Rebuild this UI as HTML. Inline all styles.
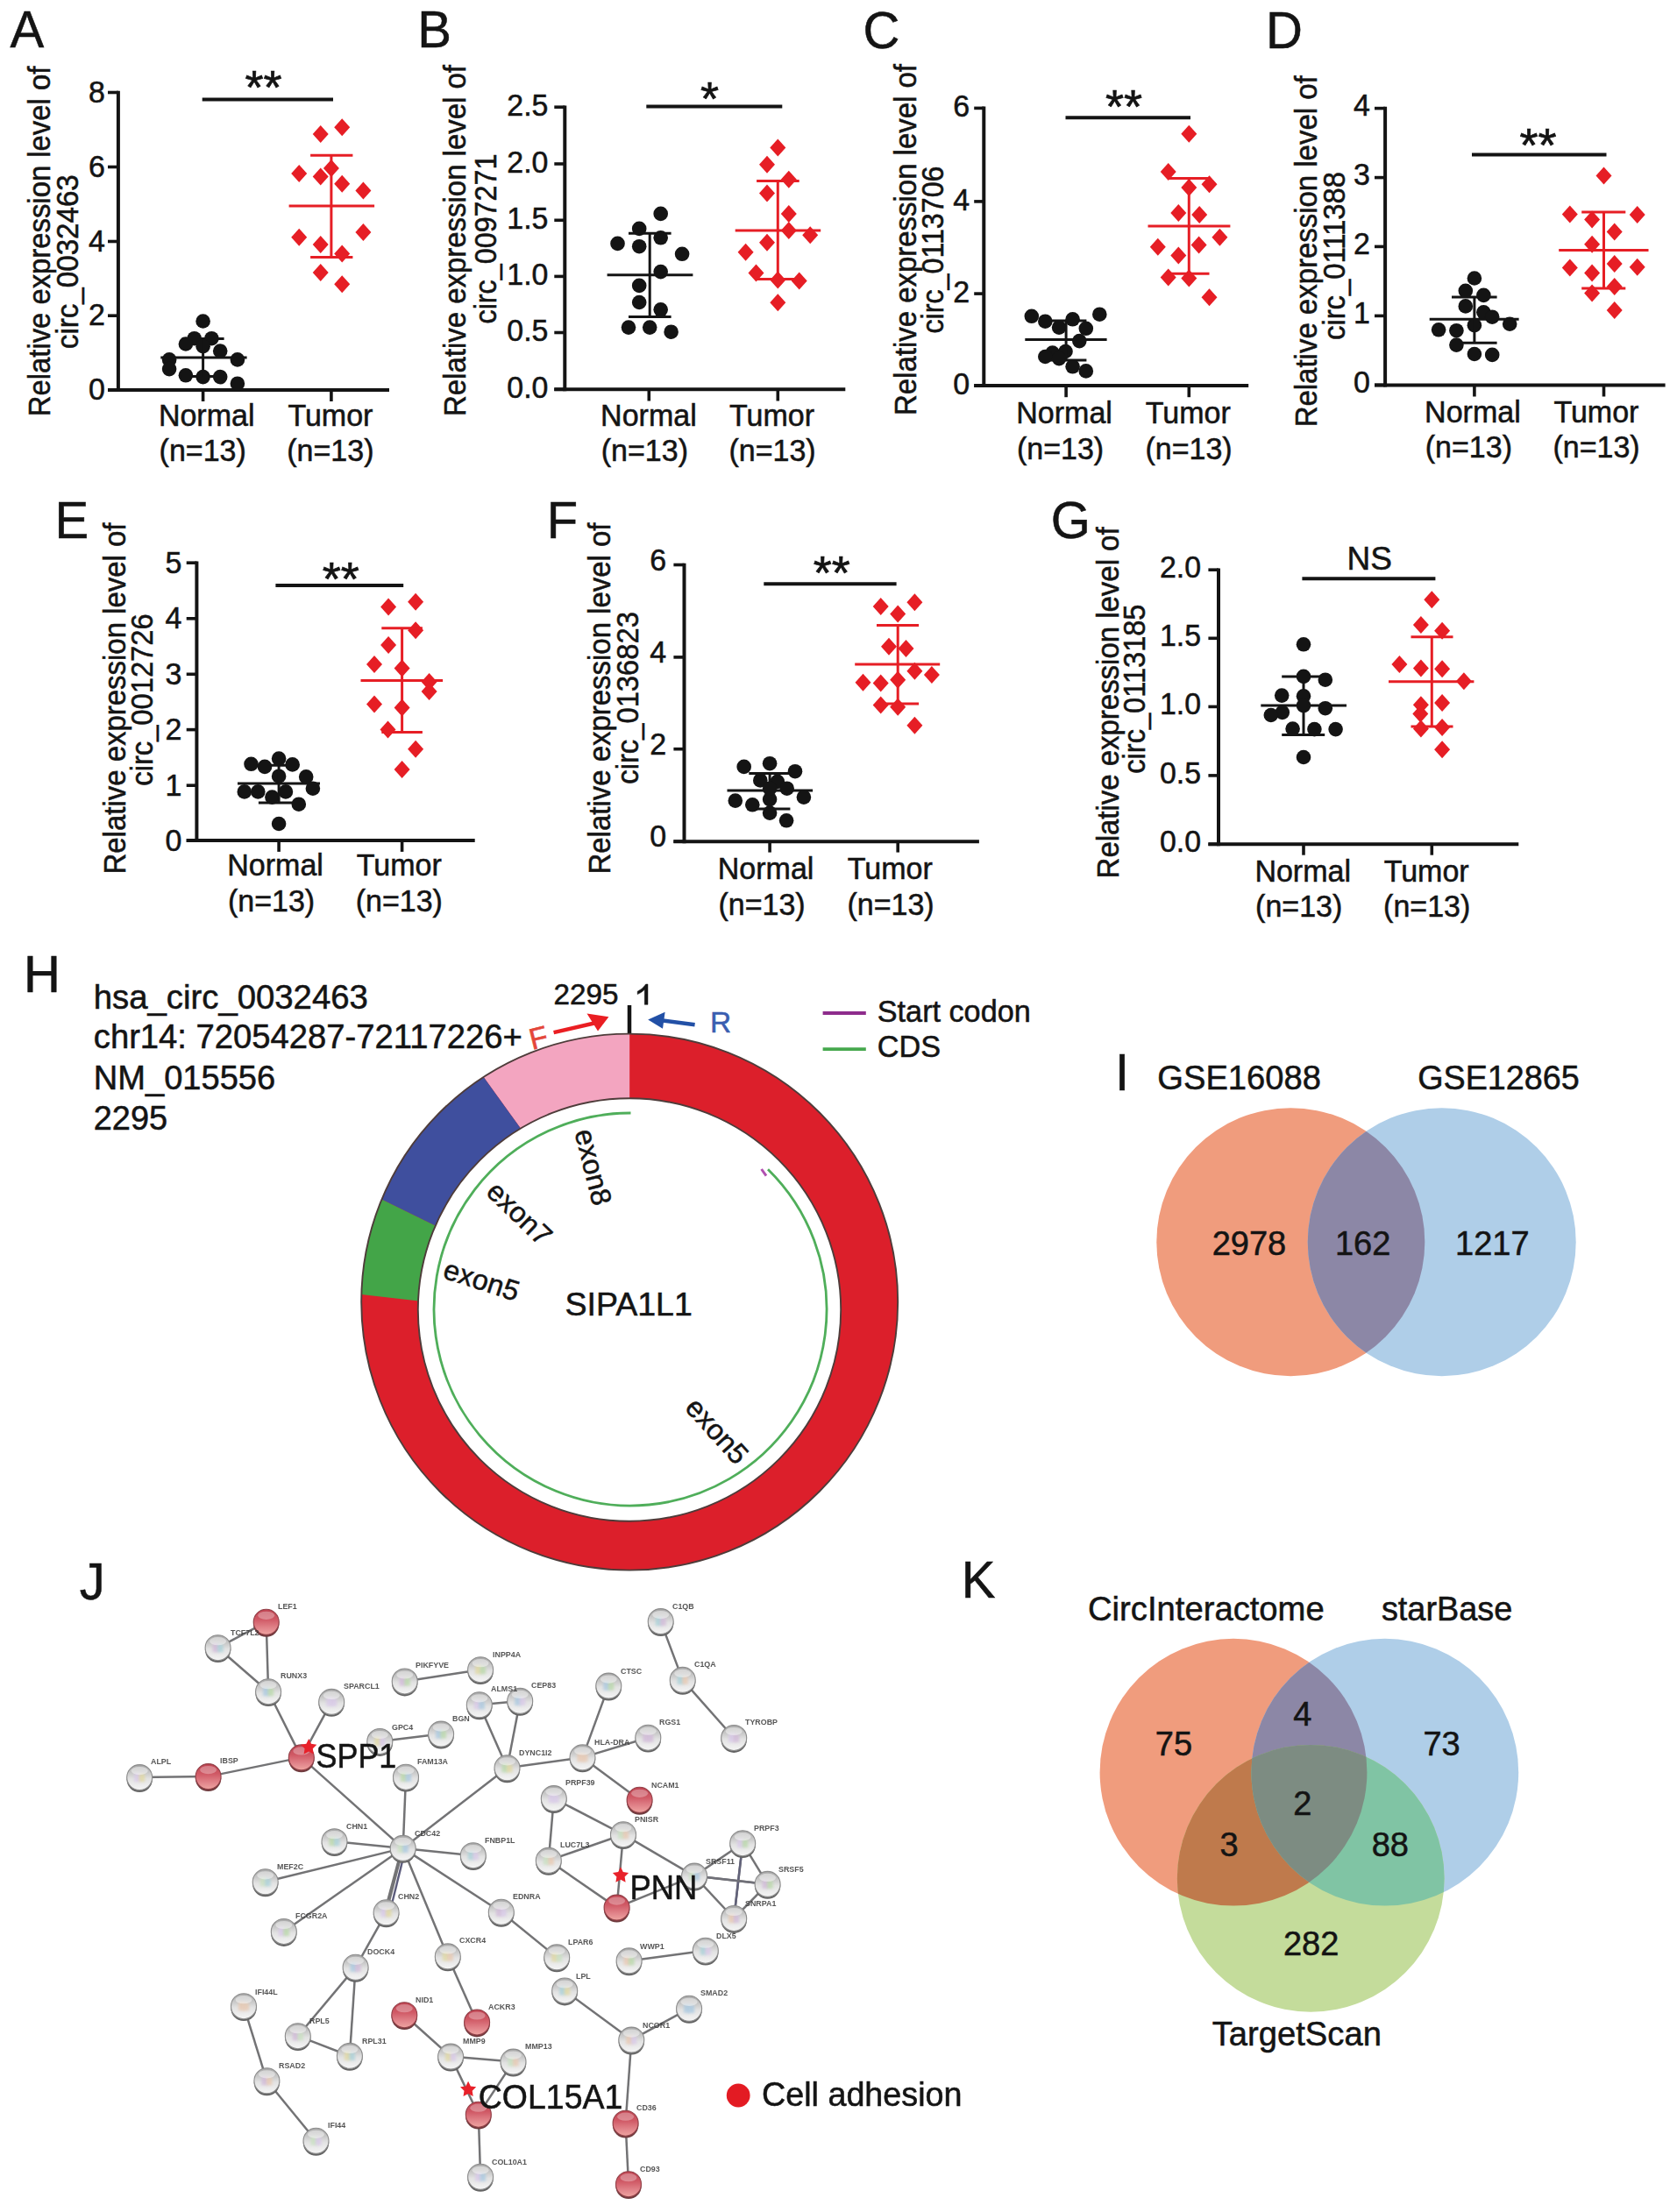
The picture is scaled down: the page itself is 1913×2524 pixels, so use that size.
<!DOCTYPE html>
<html><head><meta charset="utf-8"><title>Figure</title><style>html,body{margin:0;padding:0;background:#fff}svg{display:block;filter:blur(0.7px)}</style></head><body>
<svg width="1913" height="2524" viewBox="0 0 1913 2524" font-family="'Liberation Sans', sans-serif">
<defs>
<linearGradient id="lw" x1="0" y1="0" x2="0" y2="1"><stop offset="0" stop-color="#a6a6a6"/><stop offset="0.3" stop-color="#c6c6c6"/><stop offset="0.55" stop-color="#e2e2e2"/><stop offset="1" stop-color="#f5f5f5"/></linearGradient>
<linearGradient id="lr" x1="0" y1="0" x2="0" y2="1"><stop offset="0" stop-color="#bf4250"/><stop offset="0.4" stop-color="#d05a66"/><stop offset="0.75" stop-color="#e2868c"/><stop offset="1" stop-color="#eea4a0"/></linearGradient>
<filter id="b1" x="-20%" y="-20%" width="140%" height="140%"><feGaussianBlur stdDeviation="0.7"/></filter>
<filter id="b2" x="-30%" y="-30%" width="160%" height="160%"><feGaussianBlur stdDeviation="1.4"/></filter>
<radialGradient id="gw" cx="0.5" cy="0.32" r="0.62" fx="0.45" fy="0.22"><stop offset="0" stop-color="#ffffff"/><stop offset="0.45" stop-color="#eeeeee"/><stop offset="0.8" stop-color="#cfcfcf"/><stop offset="1" stop-color="#9a9a9a"/></radialGradient>
<radialGradient id="gr" cx="0.5" cy="0.32" r="0.62" fx="0.45" fy="0.22"><stop offset="0" stop-color="#f4b0b4"/><stop offset="0.4" stop-color="#dc5560"/><stop offset="0.8" stop-color="#cc3f4c"/><stop offset="1" stop-color="#9b3a42"/></radialGradient>
<clipPath id="ringclip"><circle cx="718.2" cy="1485.6" r="306"/></clipPath>
<filter id="soft" x="-5%" y="-5%" width="110%" height="110%"><feGaussianBlur stdDeviation="0.5"/></filter>
</defs>
<rect width="1913" height="2524" fill="#ffffff"/>
<text x="11.5" y="53.7" font-size="59.3" text-anchor="start" fill="#141414" textLength="38.7" lengthAdjust="spacingAndGlyphs" stroke="#141414" stroke-width="0.55">A</text>
<text x="476.2" y="54" font-size="59.3" text-anchor="start" fill="#141414" textLength="38.7" lengthAdjust="spacingAndGlyphs" stroke="#141414" stroke-width="0.55">B</text>
<text x="984.5" y="54.6" font-size="59.3" text-anchor="start" fill="#141414" textLength="41.9" lengthAdjust="spacingAndGlyphs" stroke="#141414" stroke-width="0.55">C</text>
<text x="1444" y="54.6" font-size="59.3" text-anchor="start" fill="#141414" textLength="41.9" lengthAdjust="spacingAndGlyphs" stroke="#141414" stroke-width="0.55">D</text>
<text x="62.5" y="613.5" font-size="59.3" text-anchor="start" fill="#141414" textLength="38.7" lengthAdjust="spacingAndGlyphs" stroke="#141414" stroke-width="0.55">E</text>
<text x="623.7" y="613.5" font-size="59.3" text-anchor="start" fill="#141414" textLength="35.4" lengthAdjust="spacingAndGlyphs" stroke="#141414" stroke-width="0.55">F</text>
<text x="1198.8" y="613.5" font-size="59.3" text-anchor="start" fill="#141414" textLength="45.1" lengthAdjust="spacingAndGlyphs" stroke="#141414" stroke-width="0.55">G</text>
<text x="26.9" y="1132.2" font-size="59.3" text-anchor="start" fill="#141414" textLength="41.9" lengthAdjust="spacingAndGlyphs" stroke="#141414" stroke-width="0.55">H</text>
<text x="1272" y="1244.2" font-size="59.3" text-anchor="start" fill="#141414" textLength="16.1" lengthAdjust="spacingAndGlyphs" stroke="#141414" stroke-width="0.55">I</text>
<text x="90.8" y="1825" font-size="59.3" text-anchor="start" fill="#141414" textLength="29.0" lengthAdjust="spacingAndGlyphs" stroke="#141414" stroke-width="0.55">J</text>
<text x="1096.7" y="1822.9" font-size="59.3" text-anchor="start" fill="#141414" textLength="38.7" lengthAdjust="spacingAndGlyphs" stroke="#141414" stroke-width="0.55">K</text>
<text x="56.8" y="275.5" font-size="34.3" text-anchor="middle" fill="#141414" stroke="#141414" stroke-width="0.55" transform="rotate(-90 56.8 275.5)" textLength="399.5" lengthAdjust="spacingAndGlyphs">Relative expression level of</text>
<text x="88.6" y="298.7" font-size="34.3" text-anchor="middle" fill="#141414" stroke="#141414" stroke-width="0.55" transform="rotate(-90 88.6 298.7)" textLength="199" lengthAdjust="spacingAndGlyphs">circ_0032463</text>
<line x1="134.9" y1="103.7" x2="134.9" y2="447" stroke="#141414" stroke-width="4" stroke-linecap="butt"/>
<line x1="123" y1="445" x2="444" y2="445" stroke="#141414" stroke-width="4" stroke-linecap="butt"/>
<line x1="123" y1="105.5" x2="134.9" y2="105.5" stroke="#141414" stroke-width="3.6" stroke-linecap="butt"/>
<text x="119.9" y="116.7" font-size="35" text-anchor="end" fill="#141414" textLength="18.9" lengthAdjust="spacingAndGlyphs" stroke="#141414" stroke-width="0.55">8</text>
<line x1="123" y1="190.5" x2="134.9" y2="190.5" stroke="#141414" stroke-width="3.6" stroke-linecap="butt"/>
<text x="119.9" y="201.70000000000002" font-size="35" text-anchor="end" fill="#141414" textLength="18.9" lengthAdjust="spacingAndGlyphs" stroke="#141414" stroke-width="0.55">6</text>
<line x1="123" y1="275.5" x2="134.9" y2="275.5" stroke="#141414" stroke-width="3.6" stroke-linecap="butt"/>
<text x="119.9" y="286.7" font-size="35" text-anchor="end" fill="#141414" textLength="18.9" lengthAdjust="spacingAndGlyphs" stroke="#141414" stroke-width="0.55">4</text>
<line x1="123" y1="360.2" x2="134.9" y2="360.2" stroke="#141414" stroke-width="3.6" stroke-linecap="butt"/>
<text x="119.9" y="371.4" font-size="35" text-anchor="end" fill="#141414" textLength="18.9" lengthAdjust="spacingAndGlyphs" stroke="#141414" stroke-width="0.55">2</text>
<line x1="123" y1="445" x2="134.9" y2="445" stroke="#141414" stroke-width="3.6" stroke-linecap="butt"/>
<text x="119.9" y="456.2" font-size="35" text-anchor="end" fill="#141414" textLength="18.9" lengthAdjust="spacingAndGlyphs" stroke="#141414" stroke-width="0.55">0</text>
<line x1="231.6" y1="445" x2="231.6" y2="458" stroke="#141414" stroke-width="3.6" stroke-linecap="butt"/>
<line x1="377.9" y1="445" x2="377.9" y2="458" stroke="#141414" stroke-width="3.6" stroke-linecap="butt"/>
<text x="180.9" y="486.1" font-size="35" text-anchor="start" fill="#141414" textLength="109.6" lengthAdjust="spacingAndGlyphs" stroke="#141414" stroke-width="0.55">Normal</text>
<text x="181.6" y="526.3" font-size="35" text-anchor="start" fill="#141414" textLength="99.2" lengthAdjust="spacingAndGlyphs" stroke="#141414" stroke-width="0.55">(n=13)</text>
<text x="328.4" y="486.1" font-size="35" text-anchor="start" fill="#141414" textLength="97.0" lengthAdjust="spacingAndGlyphs" stroke="#141414" stroke-width="0.55">Tumor</text>
<text x="327.3" y="526.3" font-size="35" text-anchor="start" fill="#141414" textLength="99.2" lengthAdjust="spacingAndGlyphs" stroke="#141414" stroke-width="0.55">(n=13)</text>
<line x1="230.7" y1="113.5" x2="380" y2="113.5" stroke="#141414" stroke-width="4" stroke-linecap="butt"/>
<text x="300.5" y="117.9" font-size="54" text-anchor="middle" fill="#141414" stroke="#141414" stroke-width="0.7">**</text>
<circle cx="231.6" cy="366.5" r="8.3" fill="#141414"/>
<circle cx="221.7" cy="386.2" r="8.3" fill="#141414"/>
<circle cx="241.4" cy="386.2" r="8.3" fill="#141414"/>
<circle cx="211.9" cy="392.5" r="8.3" fill="#141414"/>
<circle cx="231.6" cy="395.2" r="8.3" fill="#141414"/>
<circle cx="251.2" cy="400.5" r="8.3" fill="#141414"/>
<circle cx="193.1" cy="410.4" r="8.3" fill="#141414"/>
<circle cx="270.9" cy="410.4" r="8.3" fill="#141414"/>
<circle cx="193.1" cy="421.1" r="8.3" fill="#141414"/>
<circle cx="211.9" cy="428.3" r="8.3" fill="#141414"/>
<circle cx="231.6" cy="430.1" r="8.3" fill="#141414"/>
<circle cx="251.2" cy="430.1" r="8.3" fill="#141414"/>
<circle cx="270.9" cy="437.7" r="8.3" fill="#141414"/>
<line x1="183.3" y1="408" x2="281.6" y2="408" stroke="#141414" stroke-width="3" stroke-linecap="butt"/>
<line x1="207.6" y1="386.6" x2="255.6" y2="386.6" stroke="#141414" stroke-width="3" stroke-linecap="butt"/>
<line x1="207.6" y1="429.5" x2="255.6" y2="429.5" stroke="#141414" stroke-width="3" stroke-linecap="butt"/>
<line x1="231.6" y1="386.6" x2="231.6" y2="429.5" stroke="#141414" stroke-width="3" stroke-linecap="butt"/>
<path d="M390.2 135.3L399.2 145.3L390.2 155.3L381.2 145.3Z" fill="#e61e25"/>
<path d="M365.7 143.1L374.7 153.1L365.7 163.1L356.7 153.1Z" fill="#e61e25"/>
<path d="M377.9 182.1L386.9 192.1L377.9 202.1L368.9 192.1Z" fill="#e61e25"/>
<path d="M341.2 187.9L350.2 197.9L341.2 207.9L332.2 197.9Z" fill="#e61e25"/>
<path d="M365.7 191.6L374.7 201.6L365.7 211.6L356.7 201.6Z" fill="#e61e25"/>
<path d="M390.2 199.7L399.2 209.7L390.2 219.7L381.2 209.7Z" fill="#e61e25"/>
<path d="M414.4 207.5L423.4 217.5L414.4 227.5L405.4 217.5Z" fill="#e61e25"/>
<path d="M414.4 254.89999999999998L423.4 264.9L414.4 274.9L405.4 264.9Z" fill="#e61e25"/>
<path d="M341.2 260.8L350.2 270.8L341.2 280.8L332.2 270.8Z" fill="#e61e25"/>
<path d="M365.7 268.9L374.7 278.9L365.7 288.9L356.7 278.9Z" fill="#e61e25"/>
<path d="M390.2 279.6L399.2 289.6L390.2 299.6L381.2 289.6Z" fill="#e61e25"/>
<path d="M365.7 301.1L374.7 311.1L365.7 321.1L356.7 311.1Z" fill="#e61e25"/>
<path d="M390.2 314.2L399.2 324.2L390.2 334.2L381.2 324.2Z" fill="#e61e25"/>
<line x1="329.6" y1="235.1" x2="427.1" y2="235.1" stroke="#e61e25" stroke-width="3" stroke-linecap="butt"/>
<line x1="354.1" y1="177.3" x2="402.4" y2="177.3" stroke="#e61e25" stroke-width="3" stroke-linecap="butt"/>
<line x1="354.1" y1="293.6" x2="402.4" y2="293.6" stroke="#e61e25" stroke-width="3" stroke-linecap="butt"/>
<line x1="377.9" y1="177.3" x2="377.9" y2="293.6" stroke="#e61e25" stroke-width="3" stroke-linecap="butt"/>
<text x="531" y="274.5" font-size="34.3" text-anchor="middle" fill="#141414" stroke="#141414" stroke-width="0.55" transform="rotate(-90 531 274.5)" textLength="401" lengthAdjust="spacingAndGlyphs">Relative expression level of</text>
<text x="565.8" y="272.5" font-size="34.3" text-anchor="middle" fill="#141414" stroke="#141414" stroke-width="0.55" transform="rotate(-90 565.8 272.5)" textLength="194" lengthAdjust="spacingAndGlyphs">circ_0097271</text>
<line x1="644.3" y1="120.4" x2="644.3" y2="446.3" stroke="#141414" stroke-width="4" stroke-linecap="butt"/>
<line x1="632.3" y1="444.3" x2="964.3" y2="444.3" stroke="#141414" stroke-width="4" stroke-linecap="butt"/>
<line x1="632.3" y1="122.2" x2="644.3" y2="122.2" stroke="#141414" stroke-width="3.6" stroke-linecap="butt"/>
<text x="625.4" y="131.8" font-size="35" text-anchor="end" fill="#141414" textLength="47.1" lengthAdjust="spacingAndGlyphs" stroke="#141414" stroke-width="0.55">2.5</text>
<line x1="632.3" y1="187" x2="644.3" y2="187" stroke="#141414" stroke-width="3.6" stroke-linecap="butt"/>
<text x="625.4" y="196.60000000000002" font-size="35" text-anchor="end" fill="#141414" textLength="47.1" lengthAdjust="spacingAndGlyphs" stroke="#141414" stroke-width="0.55">2.0</text>
<line x1="632.3" y1="251.3" x2="644.3" y2="251.3" stroke="#141414" stroke-width="3.6" stroke-linecap="butt"/>
<text x="625.4" y="260.90000000000003" font-size="35" text-anchor="end" fill="#141414" textLength="47.1" lengthAdjust="spacingAndGlyphs" stroke="#141414" stroke-width="0.55">1.5</text>
<line x1="632.3" y1="315.4" x2="644.3" y2="315.4" stroke="#141414" stroke-width="3.6" stroke-linecap="butt"/>
<text x="625.4" y="325.0" font-size="35" text-anchor="end" fill="#141414" textLength="47.1" lengthAdjust="spacingAndGlyphs" stroke="#141414" stroke-width="0.55">1.0</text>
<line x1="632.3" y1="379.5" x2="644.3" y2="379.5" stroke="#141414" stroke-width="3.6" stroke-linecap="butt"/>
<text x="625.4" y="389.1" font-size="35" text-anchor="end" fill="#141414" textLength="47.1" lengthAdjust="spacingAndGlyphs" stroke="#141414" stroke-width="0.55">0.5</text>
<line x1="632.3" y1="444.3" x2="644.3" y2="444.3" stroke="#141414" stroke-width="3.6" stroke-linecap="butt"/>
<text x="625.4" y="453.90000000000003" font-size="35" text-anchor="end" fill="#141414" textLength="47.1" lengthAdjust="spacingAndGlyphs" stroke="#141414" stroke-width="0.55">0.0</text>
<line x1="740.3" y1="444.3" x2="740.3" y2="457.5" stroke="#141414" stroke-width="3.6" stroke-linecap="butt"/>
<line x1="887.3" y1="444.3" x2="887.3" y2="457.5" stroke="#141414" stroke-width="3.6" stroke-linecap="butt"/>
<text x="685.1" y="486.1" font-size="35" text-anchor="start" fill="#141414" textLength="109.6" lengthAdjust="spacingAndGlyphs" stroke="#141414" stroke-width="0.55">Normal</text>
<text x="685.8" y="526.3" font-size="35" text-anchor="start" fill="#141414" textLength="99.2" lengthAdjust="spacingAndGlyphs" stroke="#141414" stroke-width="0.55">(n=13)</text>
<text x="832.1" y="486.1" font-size="35" text-anchor="start" fill="#141414" textLength="97.0" lengthAdjust="spacingAndGlyphs" stroke="#141414" stroke-width="0.55">Tumor</text>
<text x="831.5" y="526.3" font-size="35" text-anchor="start" fill="#141414" textLength="99.2" lengthAdjust="spacingAndGlyphs" stroke="#141414" stroke-width="0.55">(n=13)</text>
<line x1="737.3" y1="121.6" x2="892.3" y2="121.6" stroke="#141414" stroke-width="4" stroke-linecap="butt"/>
<text x="809.4" y="130.7" font-size="54" text-anchor="middle" fill="#141414" stroke="#141414" stroke-width="0.7">*</text>
<circle cx="753.7" cy="243.9" r="8.3" fill="#141414"/>
<circle cx="729.2" cy="260.9" r="8.3" fill="#141414"/>
<circle cx="753.7" cy="271.3" r="8.3" fill="#141414"/>
<circle cx="704.5" cy="277.9" r="8.3" fill="#141414"/>
<circle cx="729.2" cy="281.2" r="8.3" fill="#141414"/>
<circle cx="778.1" cy="289.8" r="8.3" fill="#141414"/>
<circle cx="753.7" cy="310.1" r="8.3" fill="#141414"/>
<circle cx="729.2" cy="325.9" r="8.3" fill="#141414"/>
<circle cx="729.2" cy="345" r="8.3" fill="#141414"/>
<circle cx="753.7" cy="353.3" r="8.3" fill="#141414"/>
<circle cx="717" cy="373.6" r="8.3" fill="#141414"/>
<circle cx="741.2" cy="373.6" r="8.3" fill="#141414"/>
<circle cx="765.6" cy="378.7" r="8.3" fill="#141414"/>
<line x1="692.6" y1="313.7" x2="790.4" y2="313.7" stroke="#141414" stroke-width="3" stroke-linecap="butt"/>
<line x1="717" y1="266.2" x2="765.6" y2="266.2" stroke="#141414" stroke-width="3" stroke-linecap="butt"/>
<line x1="717" y1="361.4" x2="765.6" y2="361.4" stroke="#141414" stroke-width="3" stroke-linecap="butt"/>
<line x1="741.2" y1="266.2" x2="741.2" y2="361.4" stroke="#141414" stroke-width="3" stroke-linecap="butt"/>
<path d="M887.3 158.5L896.3 168.5L887.3 178.5L878.3 168.5Z" fill="#e61e25"/>
<path d="M875 177.8L884 187.8L875 197.8L866 187.8Z" fill="#e61e25"/>
<path d="M899.8 194.8L908.8 204.8L899.8 214.8L890.8 204.8Z" fill="#e61e25"/>
<path d="M875 210.6L884 220.6L875 230.6L866 220.6Z" fill="#e61e25"/>
<path d="M899.8 233.9L908.8 243.9L899.8 253.9L890.8 243.9Z" fill="#e61e25"/>
<path d="M899.8 253L908.8 263L899.8 273L890.8 263Z" fill="#e61e25"/>
<path d="M924.2 258.3L933.2 268.3L924.2 278.3L915.2 268.3Z" fill="#e61e25"/>
<path d="M875 266.7L884 276.7L875 286.7L866 276.7Z" fill="#e61e25"/>
<path d="M850.6 277.7L859.6 287.7L850.6 297.7L841.6 287.7Z" fill="#e61e25"/>
<path d="M862.5 301.6L871.5 311.6L862.5 321.6L853.5 311.6Z" fill="#e61e25"/>
<path d="M887.3 309.6L896.3 319.6L887.3 329.6L878.3 319.6Z" fill="#e61e25"/>
<path d="M911.7 310.5L920.7 320.5L911.7 330.5L902.7 320.5Z" fill="#e61e25"/>
<path d="M887.3 335.3L896.3 345.3L887.3 355.3L878.3 345.3Z" fill="#e61e25"/>
<line x1="838.7" y1="263" x2="936.2" y2="263" stroke="#e61e25" stroke-width="3" stroke-linecap="butt"/>
<line x1="863.1" y1="206.6" x2="911.7" y2="206.6" stroke="#e61e25" stroke-width="3" stroke-linecap="butt"/>
<line x1="863.1" y1="318.4" x2="911.7" y2="318.4" stroke="#e61e25" stroke-width="3" stroke-linecap="butt"/>
<line x1="887.3" y1="206.6" x2="887.3" y2="318.4" stroke="#e61e25" stroke-width="3" stroke-linecap="butt"/>
<text x="1045.3" y="273.5" font-size="34.3" text-anchor="middle" fill="#141414" stroke="#141414" stroke-width="0.55" transform="rotate(-90 1045.3 273.5)" textLength="401" lengthAdjust="spacingAndGlyphs">Relative expression level of</text>
<text x="1076.2" y="285" font-size="34.3" text-anchor="middle" fill="#141414" stroke="#141414" stroke-width="0.55" transform="rotate(-90 1076.2 285)" textLength="191" lengthAdjust="spacingAndGlyphs">circ_0113706</text>
<line x1="1122.3" y1="121.60000000000001" x2="1122.3" y2="442.1" stroke="#141414" stroke-width="4" stroke-linecap="butt"/>
<line x1="1111.2" y1="440.1" x2="1424.2" y2="440.1" stroke="#141414" stroke-width="4" stroke-linecap="butt"/>
<line x1="1111.2" y1="123.4" x2="1122.3" y2="123.4" stroke="#141414" stroke-width="3.6" stroke-linecap="butt"/>
<text x="1106.1" y="133.00000000000003" font-size="35" text-anchor="end" fill="#141414" textLength="18.9" lengthAdjust="spacingAndGlyphs" stroke="#141414" stroke-width="0.55">6</text>
<line x1="1111.2" y1="229.9" x2="1122.3" y2="229.9" stroke="#141414" stroke-width="3.6" stroke-linecap="butt"/>
<text x="1106.1" y="239.50000000000003" font-size="35" text-anchor="end" fill="#141414" textLength="18.9" lengthAdjust="spacingAndGlyphs" stroke="#141414" stroke-width="0.55">4</text>
<line x1="1111.2" y1="335.1" x2="1122.3" y2="335.1" stroke="#141414" stroke-width="3.6" stroke-linecap="butt"/>
<text x="1106.1" y="344.70000000000005" font-size="35" text-anchor="end" fill="#141414" textLength="18.9" lengthAdjust="spacingAndGlyphs" stroke="#141414" stroke-width="0.55">2</text>
<line x1="1111.2" y1="440.1" x2="1122.3" y2="440.1" stroke="#141414" stroke-width="3.6" stroke-linecap="butt"/>
<text x="1106.1" y="449.70000000000005" font-size="35" text-anchor="end" fill="#141414" textLength="18.9" lengthAdjust="spacingAndGlyphs" stroke="#141414" stroke-width="0.55">0</text>
<line x1="1216.1" y1="440.1" x2="1216.1" y2="453.2" stroke="#141414" stroke-width="3.6" stroke-linecap="butt"/>
<line x1="1356.3" y1="440.1" x2="1356.3" y2="453.2" stroke="#141414" stroke-width="3.6" stroke-linecap="butt"/>
<text x="1159.3" y="483.1" font-size="35" text-anchor="start" fill="#141414" textLength="109.6" lengthAdjust="spacingAndGlyphs" stroke="#141414" stroke-width="0.55">Normal</text>
<text x="1160.0" y="523.7" font-size="35" text-anchor="start" fill="#141414" textLength="99.2" lengthAdjust="spacingAndGlyphs" stroke="#141414" stroke-width="0.55">(n=13)</text>
<text x="1306.8" y="483.1" font-size="35" text-anchor="start" fill="#141414" textLength="97.0" lengthAdjust="spacingAndGlyphs" stroke="#141414" stroke-width="0.55">Tumor</text>
<text x="1306.5" y="523.7" font-size="35" text-anchor="start" fill="#141414" textLength="99.2" lengthAdjust="spacingAndGlyphs" stroke="#141414" stroke-width="0.55">(n=13)</text>
<line x1="1215.5" y1="134.2" x2="1358" y2="134.2" stroke="#141414" stroke-width="4" stroke-linecap="butt"/>
<text x="1282" y="139.6" font-size="54" text-anchor="middle" fill="#141414" stroke="#141414" stroke-width="0.7">**</text>
<circle cx="1176.8" cy="360.8" r="8.3" fill="#141414"/>
<circle cx="1254.3" cy="358.7" r="8.3" fill="#141414"/>
<circle cx="1192.3" cy="366.7" r="8.3" fill="#141414"/>
<circle cx="1223.6" cy="364.3" r="8.3" fill="#141414"/>
<circle cx="1208.1" cy="373.6" r="8.3" fill="#141414"/>
<circle cx="1238.8" cy="374.8" r="8.3" fill="#141414"/>
<circle cx="1231.3" cy="389.1" r="8.3" fill="#141414"/>
<circle cx="1200.6" cy="402.5" r="8.3" fill="#141414"/>
<circle cx="1215.5" cy="401" r="8.3" fill="#141414"/>
<circle cx="1192.3" cy="407" r="8.3" fill="#141414"/>
<circle cx="1208.1" cy="409.1" r="8.3" fill="#141414"/>
<circle cx="1223.6" cy="418.3" r="8.3" fill="#141414"/>
<circle cx="1238.8" cy="423.4" r="8.3" fill="#141414"/>
<line x1="1169.3" y1="387.6" x2="1262.6" y2="387.6" stroke="#141414" stroke-width="3" stroke-linecap="butt"/>
<line x1="1193.2" y1="366.1" x2="1239.4" y2="366.1" stroke="#141414" stroke-width="3" stroke-linecap="butt"/>
<line x1="1193.2" y1="410.9" x2="1239.4" y2="410.9" stroke="#141414" stroke-width="3" stroke-linecap="butt"/>
<line x1="1216.1" y1="366.1" x2="1216.1" y2="410.9" stroke="#141414" stroke-width="3" stroke-linecap="butt"/>
<path d="M1356.3 142.7L1365.3 152.7L1356.3 162.7L1347.3 152.7Z" fill="#e61e25"/>
<path d="M1332.7 185.9L1341.7 195.9L1332.7 205.9L1323.7 195.9Z" fill="#e61e25"/>
<path d="M1379.5 200.2L1388.5 210.2L1379.5 220.2L1370.5 210.2Z" fill="#e61e25"/>
<path d="M1356.3 204.1L1365.3 214.1L1356.3 224.1L1347.3 214.1Z" fill="#e61e25"/>
<path d="M1344.3 233L1353.3 243L1344.3 253L1335.3 243Z" fill="#e61e25"/>
<path d="M1368.2 235.1L1377.2 245.1L1368.2 255.1L1359.2 245.1Z" fill="#e61e25"/>
<path d="M1391.4 260.7L1400.4 270.7L1391.4 280.7L1382.4 270.7Z" fill="#e61e25"/>
<path d="M1367.6 269.4L1376.6 279.4L1367.6 289.4L1358.6 279.4Z" fill="#e61e25"/>
<path d="M1320.8 271.8L1329.8 281.8L1320.8 291.8L1311.8 281.8Z" fill="#e61e25"/>
<path d="M1344.3 281.6L1353.3 291.6L1344.3 301.6L1335.3 291.6Z" fill="#e61e25"/>
<path d="M1332.7 306.6L1341.7 316.6L1332.7 326.6L1323.7 316.6Z" fill="#e61e25"/>
<path d="M1356.3 307.5L1365.3 317.5L1356.3 327.5L1347.3 317.5Z" fill="#e61e25"/>
<path d="M1379.5 329.3L1388.5 339.3L1379.5 349.3L1370.5 339.3Z" fill="#e61e25"/>
<line x1="1309.5" y1="257.9" x2="1403.4" y2="257.9" stroke="#e61e25" stroke-width="3" stroke-linecap="butt"/>
<line x1="1333.3" y1="203.6" x2="1379.5" y2="203.6" stroke="#e61e25" stroke-width="3" stroke-linecap="butt"/>
<line x1="1333.3" y1="312.2" x2="1379.5" y2="312.2" stroke="#e61e25" stroke-width="3" stroke-linecap="butt"/>
<line x1="1356.3" y1="203.6" x2="1356.3" y2="312.2" stroke="#e61e25" stroke-width="3" stroke-linecap="butt"/>
<text x="1501.7" y="286.8" font-size="34.3" text-anchor="middle" fill="#141414" stroke="#141414" stroke-width="0.55" transform="rotate(-90 1501.7 286.8)" textLength="401" lengthAdjust="spacingAndGlyphs">Relative expression level of</text>
<text x="1533.9" y="292" font-size="34.3" text-anchor="middle" fill="#141414" stroke="#141414" stroke-width="0.55" transform="rotate(-90 1533.9 292)" textLength="192" lengthAdjust="spacingAndGlyphs">circ_0111388</text>
<line x1="1580.1" y1="121.8" x2="1580.1" y2="441.4" stroke="#141414" stroke-width="4" stroke-linecap="butt"/>
<line x1="1568" y1="439.4" x2="1899.6" y2="439.4" stroke="#141414" stroke-width="4" stroke-linecap="butt"/>
<line x1="1568" y1="123.6" x2="1580.1" y2="123.6" stroke="#141414" stroke-width="3.6" stroke-linecap="butt"/>
<text x="1563" y="132.3" font-size="35" text-anchor="end" fill="#141414" textLength="18.9" lengthAdjust="spacingAndGlyphs" stroke="#141414" stroke-width="0.55">4</text>
<line x1="1568" y1="202.6" x2="1580.1" y2="202.6" stroke="#141414" stroke-width="3.6" stroke-linecap="butt"/>
<text x="1563" y="211.3" font-size="35" text-anchor="end" fill="#141414" textLength="18.9" lengthAdjust="spacingAndGlyphs" stroke="#141414" stroke-width="0.55">3</text>
<line x1="1568" y1="281.4" x2="1580.1" y2="281.4" stroke="#141414" stroke-width="3.6" stroke-linecap="butt"/>
<text x="1563" y="290.09999999999997" font-size="35" text-anchor="end" fill="#141414" textLength="18.9" lengthAdjust="spacingAndGlyphs" stroke="#141414" stroke-width="0.55">2</text>
<line x1="1568" y1="360.4" x2="1580.1" y2="360.4" stroke="#141414" stroke-width="3.6" stroke-linecap="butt"/>
<text x="1563" y="369.09999999999997" font-size="35" text-anchor="end" fill="#141414" textLength="18.9" lengthAdjust="spacingAndGlyphs" stroke="#141414" stroke-width="0.55">1</text>
<line x1="1568" y1="439.4" x2="1580.1" y2="439.4" stroke="#141414" stroke-width="3.6" stroke-linecap="butt"/>
<text x="1563" y="448.09999999999997" font-size="35" text-anchor="end" fill="#141414" textLength="18.9" lengthAdjust="spacingAndGlyphs" stroke="#141414" stroke-width="0.55">0</text>
<line x1="1681.9" y1="439.4" x2="1681.9" y2="452.5" stroke="#141414" stroke-width="3.6" stroke-linecap="butt"/>
<line x1="1829.5" y1="439.4" x2="1829.5" y2="452.5" stroke="#141414" stroke-width="3.6" stroke-linecap="butt"/>
<text x="1625.1" y="482.2" font-size="35" text-anchor="start" fill="#141414" textLength="109.6" lengthAdjust="spacingAndGlyphs" stroke="#141414" stroke-width="0.55">Normal</text>
<text x="1625.8" y="522.4" font-size="35" text-anchor="start" fill="#141414" textLength="99.2" lengthAdjust="spacingAndGlyphs" stroke="#141414" stroke-width="0.55">(n=13)</text>
<text x="1772.4" y="482.2" font-size="35" text-anchor="start" fill="#141414" textLength="97.0" lengthAdjust="spacingAndGlyphs" stroke="#141414" stroke-width="0.55">Tumor</text>
<text x="1771.5" y="522.4" font-size="35" text-anchor="start" fill="#141414" textLength="99.2" lengthAdjust="spacingAndGlyphs" stroke="#141414" stroke-width="0.55">(n=13)</text>
<line x1="1679" y1="176.5" x2="1832.5" y2="176.5" stroke="#141414" stroke-width="4" stroke-linecap="butt"/>
<text x="1754.4" y="183.7" font-size="54" text-anchor="middle" fill="#141414" stroke="#141414" stroke-width="0.7">**</text>
<circle cx="1681.9" cy="317.5" r="8.3" fill="#141414"/>
<circle cx="1671.8" cy="331.8" r="8.3" fill="#141414"/>
<circle cx="1692.4" cy="336.9" r="8.3" fill="#141414"/>
<circle cx="1671.8" cy="349.4" r="8.3" fill="#141414"/>
<circle cx="1692.4" cy="356.3" r="8.3" fill="#141414"/>
<circle cx="1702.2" cy="361.7" r="8.3" fill="#141414"/>
<circle cx="1722.2" cy="369.7" r="8.3" fill="#141414"/>
<circle cx="1681.9" cy="371.2" r="8.3" fill="#141414"/>
<circle cx="1641.1" cy="376.3" r="8.3" fill="#141414"/>
<circle cx="1661.4" cy="377.2" r="8.3" fill="#141414"/>
<circle cx="1661.4" cy="393.6" r="8.3" fill="#141414"/>
<circle cx="1681.9" cy="404" r="8.3" fill="#141414"/>
<circle cx="1702.2" cy="404.9" r="8.3" fill="#141414"/>
<line x1="1630.7" y1="364.3" x2="1732.6" y2="364.3" stroke="#141414" stroke-width="3" stroke-linecap="butt"/>
<line x1="1656" y1="339" x2="1707.6" y2="339" stroke="#141414" stroke-width="3" stroke-linecap="butt"/>
<line x1="1656" y1="391.2" x2="1707.6" y2="391.2" stroke="#141414" stroke-width="3" stroke-linecap="butt"/>
<line x1="1681.9" y1="339" x2="1681.9" y2="391.2" stroke="#141414" stroke-width="3" stroke-linecap="butt"/>
<path d="M1829.5 190.4L1838.5 200.4L1829.5 210.4L1820.5 200.4Z" fill="#e61e25"/>
<path d="M1790.8 234.5L1799.8 244.5L1790.8 254.5L1781.8 244.5Z" fill="#e61e25"/>
<path d="M1867.7 235.1L1876.7 245.1L1867.7 255.1L1858.7 245.1Z" fill="#e61e25"/>
<path d="M1816.1 240.4L1825.1 250.4L1816.1 260.4L1807.1 250.4Z" fill="#e61e25"/>
<path d="M1841.7 254.5L1850.7 264.5L1841.7 274.5L1832.7 264.5Z" fill="#e61e25"/>
<path d="M1816.1 268.8L1825.1 278.8L1816.1 288.8L1807.1 278.8Z" fill="#e61e25"/>
<path d="M1841.7 291.1L1850.7 301.1L1841.7 311.1L1832.7 301.1Z" fill="#e61e25"/>
<path d="M1790.8 295.6L1799.8 305.6L1790.8 315.6L1781.8 305.6Z" fill="#e61e25"/>
<path d="M1867.7 294.7L1876.7 304.7L1867.7 314.7L1858.7 304.7Z" fill="#e61e25"/>
<path d="M1816.1 301.6L1825.1 311.6L1816.1 321.6L1807.1 311.6Z" fill="#e61e25"/>
<path d="M1841.7 317.1L1850.7 327.1L1841.7 337.1L1832.7 327.1Z" fill="#e61e25"/>
<path d="M1816.1 324.5L1825.1 334.5L1816.1 344.5L1807.1 334.5Z" fill="#e61e25"/>
<path d="M1841.7 343.9L1850.7 353.9L1841.7 363.9L1832.7 353.9Z" fill="#e61e25"/>
<line x1="1778.2" y1="285.6" x2="1880.5" y2="285.6" stroke="#e61e25" stroke-width="3" stroke-linecap="butt"/>
<line x1="1804.2" y1="242.1" x2="1854.3" y2="242.1" stroke="#e61e25" stroke-width="3" stroke-linecap="butt"/>
<line x1="1804.2" y1="328.9" x2="1854.3" y2="328.9" stroke="#e61e25" stroke-width="3" stroke-linecap="butt"/>
<line x1="1829.5" y1="242.1" x2="1829.5" y2="328.9" stroke="#e61e25" stroke-width="3" stroke-linecap="butt"/>
<text x="142.9" y="797" font-size="34.3" text-anchor="middle" fill="#141414" stroke="#141414" stroke-width="0.55" transform="rotate(-90 142.9 797)" textLength="401" lengthAdjust="spacingAndGlyphs">Relative expression level of</text>
<text x="173.9" y="798.5" font-size="34.3" text-anchor="middle" fill="#141414" stroke="#141414" stroke-width="0.55" transform="rotate(-90 173.9 798.5)" textLength="196.3" lengthAdjust="spacingAndGlyphs">circ_0012726</text>
<line x1="224.4" y1="640.4000000000001" x2="224.4" y2="961.1" stroke="#141414" stroke-width="4" stroke-linecap="butt"/>
<line x1="212.7" y1="959.1" x2="541.7" y2="959.1" stroke="#141414" stroke-width="4" stroke-linecap="butt"/>
<line x1="212.7" y1="642.2" x2="224.4" y2="642.2" stroke="#141414" stroke-width="3.6" stroke-linecap="butt"/>
<text x="207.5" y="653.7" font-size="35" text-anchor="end" fill="#141414" textLength="18.9" lengthAdjust="spacingAndGlyphs" stroke="#141414" stroke-width="0.55">5</text>
<line x1="212.7" y1="705.8" x2="224.4" y2="705.8" stroke="#141414" stroke-width="3.6" stroke-linecap="butt"/>
<text x="207.5" y="717.3" font-size="35" text-anchor="end" fill="#141414" textLength="18.9" lengthAdjust="spacingAndGlyphs" stroke="#141414" stroke-width="0.55">4</text>
<line x1="212.7" y1="769.3" x2="224.4" y2="769.3" stroke="#141414" stroke-width="3.6" stroke-linecap="butt"/>
<text x="207.5" y="780.8" font-size="35" text-anchor="end" fill="#141414" textLength="18.9" lengthAdjust="spacingAndGlyphs" stroke="#141414" stroke-width="0.55">3</text>
<line x1="212.7" y1="832.6" x2="224.4" y2="832.6" stroke="#141414" stroke-width="3.6" stroke-linecap="butt"/>
<text x="207.5" y="844.1" font-size="35" text-anchor="end" fill="#141414" textLength="18.9" lengthAdjust="spacingAndGlyphs" stroke="#141414" stroke-width="0.55">2</text>
<line x1="212.7" y1="896.2" x2="224.4" y2="896.2" stroke="#141414" stroke-width="3.6" stroke-linecap="butt"/>
<text x="207.5" y="907.7" font-size="35" text-anchor="end" fill="#141414" textLength="18.9" lengthAdjust="spacingAndGlyphs" stroke="#141414" stroke-width="0.55">1</text>
<line x1="212.7" y1="959.1" x2="224.4" y2="959.1" stroke="#141414" stroke-width="3.6" stroke-linecap="butt"/>
<text x="207.5" y="970.6" font-size="35" text-anchor="end" fill="#141414" textLength="18.9" lengthAdjust="spacingAndGlyphs" stroke="#141414" stroke-width="0.55">0</text>
<line x1="318.1" y1="959.1" x2="318.1" y2="971.9" stroke="#141414" stroke-width="3.6" stroke-linecap="butt"/>
<line x1="458.6" y1="959.1" x2="458.6" y2="971.9" stroke="#141414" stroke-width="3.6" stroke-linecap="butt"/>
<text x="259.3" y="999.1" font-size="35" text-anchor="start" fill="#141414" textLength="109.6" lengthAdjust="spacingAndGlyphs" stroke="#141414" stroke-width="0.55">Normal</text>
<text x="260.0" y="1039.7" font-size="35" text-anchor="start" fill="#141414" textLength="99.2" lengthAdjust="spacingAndGlyphs" stroke="#141414" stroke-width="0.55">(n=13)</text>
<text x="406.8" y="999.1" font-size="35" text-anchor="start" fill="#141414" textLength="97.0" lengthAdjust="spacingAndGlyphs" stroke="#141414" stroke-width="0.55">Tumor</text>
<text x="405.7" y="1039.7" font-size="35" text-anchor="start" fill="#141414" textLength="99.2" lengthAdjust="spacingAndGlyphs" stroke="#141414" stroke-width="0.55">(n=13)</text>
<line x1="314.4" y1="668.1" x2="460.2" y2="668.1" stroke="#141414" stroke-width="4" stroke-linecap="butt"/>
<text x="388.8" y="678.5" font-size="54" text-anchor="middle" fill="#141414" stroke="#141414" stroke-width="0.7">**</text>
<circle cx="318.1" cy="865.6" r="8.3" fill="#141414"/>
<circle cx="286.5" cy="871.8" r="8.3" fill="#141414"/>
<circle cx="333.6" cy="872.4" r="8.3" fill="#141414"/>
<circle cx="302" cy="874.9" r="8.3" fill="#141414"/>
<circle cx="318.1" cy="885.7" r="8.3" fill="#141414"/>
<circle cx="349.2" cy="886.4" r="8.3" fill="#141414"/>
<circle cx="356.9" cy="899.7" r="8.3" fill="#141414"/>
<circle cx="278.8" cy="903.4" r="8.3" fill="#141414"/>
<circle cx="294.3" cy="903.4" r="8.3" fill="#141414"/>
<circle cx="325.9" cy="903.4" r="8.3" fill="#141414"/>
<circle cx="310.4" cy="909.6" r="8.3" fill="#141414"/>
<circle cx="340.8" cy="917.7" r="8.3" fill="#141414"/>
<circle cx="318.1" cy="940" r="8.3" fill="#141414"/>
<line x1="271" y1="894.1" x2="365" y2="894.1" stroke="#141414" stroke-width="3" stroke-linecap="butt"/>
<line x1="294.9" y1="873.3" x2="341.4" y2="873.3" stroke="#141414" stroke-width="3" stroke-linecap="butt"/>
<line x1="294.9" y1="916.1" x2="341.4" y2="916.1" stroke="#141414" stroke-width="3" stroke-linecap="butt"/>
<line x1="318.1" y1="873.3" x2="318.1" y2="916.1" stroke="#141414" stroke-width="3" stroke-linecap="butt"/>
<path d="M474.1 676.7L483.1 686.7L474.1 696.7L465.1 686.7Z" fill="#e61e25"/>
<path d="M443.1 682.6L452.1 692.6L443.1 702.6L434.1 692.6Z" fill="#e61e25"/>
<path d="M474.1 709.2L483.1 719.2L474.1 729.2L465.1 719.2Z" fill="#e61e25"/>
<path d="M443.1 726L452.1 736L443.1 746L434.1 736Z" fill="#e61e25"/>
<path d="M427 748L436 758L427 768L418 758Z" fill="#e61e25"/>
<path d="M458.6 752.6L467.6 762.6L458.6 772.6L449.6 762.6Z" fill="#e61e25"/>
<path d="M489.6 768.1L498.6 778.1L489.6 788.1L480.6 778.1Z" fill="#e61e25"/>
<path d="M489.6 779L498.6 789L489.6 799L480.6 789Z" fill="#e61e25"/>
<path d="M427 793.6L436 803.6L427 813.6L418 803.6Z" fill="#e61e25"/>
<path d="M458.6 797.6L467.6 807.6L458.6 817.6L449.6 807.6Z" fill="#e61e25"/>
<path d="M442.5 822.4L451.5 832.4L442.5 842.4L433.5 832.4Z" fill="#e61e25"/>
<path d="M474.1 844.7L483.1 854.7L474.1 864.7L465.1 854.7Z" fill="#e61e25"/>
<path d="M458.6 868L467.6 878L458.6 888L449.6 878Z" fill="#e61e25"/>
<line x1="411.5" y1="776.6" x2="505.1" y2="776.6" stroke="#e61e25" stroke-width="3" stroke-linecap="butt"/>
<line x1="435.3" y1="716.7" x2="481.9" y2="716.7" stroke="#e61e25" stroke-width="3" stroke-linecap="butt"/>
<line x1="435.3" y1="835.5" x2="481.9" y2="835.5" stroke="#e61e25" stroke-width="3" stroke-linecap="butt"/>
<line x1="458.6" y1="716.7" x2="458.6" y2="835.5" stroke="#e61e25" stroke-width="3" stroke-linecap="butt"/>
<text x="695.5" y="797" font-size="34.3" text-anchor="middle" fill="#141414" stroke="#141414" stroke-width="0.55" transform="rotate(-90 695.5 797)" textLength="401" lengthAdjust="spacingAndGlyphs">Relative expression level of</text>
<text x="727.9" y="796.4" font-size="34.3" text-anchor="middle" fill="#141414" stroke="#141414" stroke-width="0.55" transform="rotate(-90 727.9 796.4)" textLength="196.5" lengthAdjust="spacingAndGlyphs">circ_0136823</text>
<line x1="780.5" y1="642.7" x2="780.5" y2="962.2" stroke="#141414" stroke-width="4" stroke-linecap="butt"/>
<line x1="768.4" y1="960.2" x2="1116.9" y2="960.2" stroke="#141414" stroke-width="4" stroke-linecap="butt"/>
<line x1="768.4" y1="644.5" x2="780.5" y2="644.5" stroke="#141414" stroke-width="3.6" stroke-linecap="butt"/>
<text x="760.1" y="650.5" font-size="35" text-anchor="end" fill="#141414" textLength="18.9" lengthAdjust="spacingAndGlyphs" stroke="#141414" stroke-width="0.55">6</text>
<line x1="768.4" y1="749.9" x2="780.5" y2="749.9" stroke="#141414" stroke-width="3.6" stroke-linecap="butt"/>
<text x="760.1" y="755.9" font-size="35" text-anchor="end" fill="#141414" textLength="18.9" lengthAdjust="spacingAndGlyphs" stroke="#141414" stroke-width="0.55">4</text>
<line x1="768.4" y1="854.7" x2="780.5" y2="854.7" stroke="#141414" stroke-width="3.6" stroke-linecap="butt"/>
<text x="760.1" y="860.7" font-size="35" text-anchor="end" fill="#141414" textLength="18.9" lengthAdjust="spacingAndGlyphs" stroke="#141414" stroke-width="0.55">2</text>
<line x1="768.4" y1="960.2" x2="780.5" y2="960.2" stroke="#141414" stroke-width="3.6" stroke-linecap="butt"/>
<text x="760.1" y="966.2" font-size="35" text-anchor="end" fill="#141414" textLength="18.9" lengthAdjust="spacingAndGlyphs" stroke="#141414" stroke-width="0.55">0</text>
<line x1="878.1" y1="960.2" x2="878.1" y2="972.6" stroke="#141414" stroke-width="3.6" stroke-linecap="butt"/>
<line x1="1024.2" y1="960.2" x2="1024.2" y2="972.6" stroke="#141414" stroke-width="3.6" stroke-linecap="butt"/>
<text x="818.8" y="1003.1" font-size="35" text-anchor="start" fill="#141414" textLength="109.6" lengthAdjust="spacingAndGlyphs" stroke="#141414" stroke-width="0.55">Normal</text>
<text x="819.5" y="1043.7" font-size="35" text-anchor="start" fill="#141414" textLength="99.2" lengthAdjust="spacingAndGlyphs" stroke="#141414" stroke-width="0.55">(n=13)</text>
<text x="966.8" y="1003.1" font-size="35" text-anchor="start" fill="#141414" textLength="97.0" lengthAdjust="spacingAndGlyphs" stroke="#141414" stroke-width="0.55">Tumor</text>
<text x="966.5" y="1043.7" font-size="35" text-anchor="start" fill="#141414" textLength="99.2" lengthAdjust="spacingAndGlyphs" stroke="#141414" stroke-width="0.55">(n=13)</text>
<line x1="871.3" y1="666.2" x2="1022.6" y2="666.2" stroke="#141414" stroke-width="4" stroke-linecap="butt"/>
<text x="948.8" y="671.7" font-size="54" text-anchor="middle" fill="#141414" stroke="#141414" stroke-width="0.7">**</text>
<circle cx="878.1" cy="871.2" r="8.3" fill="#141414"/>
<circle cx="848.7" cy="874.9" r="8.3" fill="#141414"/>
<circle cx="907" cy="880.2" r="8.3" fill="#141414"/>
<circle cx="867.3" cy="890.4" r="8.3" fill="#141414"/>
<circle cx="886.8" cy="891.9" r="8.3" fill="#141414"/>
<circle cx="897.7" cy="899.7" r="8.3" fill="#141414"/>
<circle cx="916.9" cy="909.6" r="8.3" fill="#141414"/>
<circle cx="838.8" cy="913.6" r="8.3" fill="#141414"/>
<circle cx="878.1" cy="912.1" r="8.3" fill="#141414"/>
<circle cx="858.3" cy="918.3" r="8.3" fill="#141414"/>
<circle cx="878.1" cy="927.6" r="8.3" fill="#141414"/>
<circle cx="897.1" cy="936.3" r="8.3" fill="#141414"/>
<circle cx="878.1" cy="899.7" r="8.3" fill="#141414"/>
<line x1="829.5" y1="901.9" x2="927.1" y2="901.9" stroke="#141414" stroke-width="3" stroke-linecap="butt"/>
<line x1="854.3" y1="882.6" x2="901.4" y2="882.6" stroke="#141414" stroke-width="3" stroke-linecap="butt"/>
<line x1="854.3" y1="922.9" x2="901.4" y2="922.9" stroke="#141414" stroke-width="3" stroke-linecap="butt"/>
<line x1="878.1" y1="882.6" x2="878.1" y2="922.9" stroke="#141414" stroke-width="3" stroke-linecap="butt"/>
<path d="M1043.4 677.3L1052.4 687.3L1043.4 697.3L1034.4 687.3Z" fill="#e61e25"/>
<path d="M1004.7 681.9L1013.7 691.9L1004.7 701.9L995.7 691.9Z" fill="#e61e25"/>
<path d="M1024.2 690.6L1033.2 700.6L1024.2 710.6L1015.2 700.6Z" fill="#e61e25"/>
<path d="M1014 727.8L1023 737.8L1014 747.8L1005 737.8Z" fill="#e61e25"/>
<path d="M1033.5 730L1042.5 740L1033.5 750L1024.5 740Z" fill="#e61e25"/>
<path d="M1043.4 755.7L1052.4 765.7L1043.4 775.7L1034.4 765.7Z" fill="#e61e25"/>
<path d="M1062.9 760.1L1071.9 770.1L1062.9 780.1L1053.9 770.1Z" fill="#e61e25"/>
<path d="M1024.2 765.7L1033.2 775.7L1024.2 785.7L1015.2 775.7Z" fill="#e61e25"/>
<path d="M984.5 768.8L993.5 778.8L984.5 788.8L975.5 778.8Z" fill="#e61e25"/>
<path d="M1004.7 769.4L1013.7 779.4L1004.7 789.4L995.7 779.4Z" fill="#e61e25"/>
<path d="M1004.7 794.5L1013.7 804.5L1004.7 814.5L995.7 804.5Z" fill="#e61e25"/>
<path d="M1024.2 796.7L1033.2 806.7L1024.2 816.7L1015.2 806.7Z" fill="#e61e25"/>
<path d="M1043.4 817.8L1052.4 827.8L1043.4 837.8L1034.4 827.8Z" fill="#e61e25"/>
<line x1="975.2" y1="758" x2="1072.2" y2="758" stroke="#e61e25" stroke-width="3" stroke-linecap="butt"/>
<line x1="1000" y1="713.6" x2="1048.1" y2="713.6" stroke="#e61e25" stroke-width="3" stroke-linecap="butt"/>
<line x1="1000" y1="802.9" x2="1048.1" y2="802.9" stroke="#e61e25" stroke-width="3" stroke-linecap="butt"/>
<line x1="1024.2" y1="713.6" x2="1024.2" y2="802.9" stroke="#e61e25" stroke-width="3" stroke-linecap="butt"/>
<text x="1275.7" y="801.9" font-size="34.3" text-anchor="middle" fill="#141414" stroke="#141414" stroke-width="0.55" transform="rotate(-90 1275.7 801.9)" textLength="401" lengthAdjust="spacingAndGlyphs">Relative expression level of</text>
<text x="1306.4" y="786.1" font-size="34.3" text-anchor="middle" fill="#141414" stroke="#141414" stroke-width="0.55" transform="rotate(-90 1306.4 786.1)" textLength="193.2" lengthAdjust="spacingAndGlyphs">circ_0113185</text>
<line x1="1390" y1="648.4000000000001" x2="1390" y2="965.3" stroke="#141414" stroke-width="4" stroke-linecap="butt"/>
<line x1="1378.4" y1="963.3" x2="1732.3" y2="963.3" stroke="#141414" stroke-width="4" stroke-linecap="butt"/>
<line x1="1378.4" y1="650.2" x2="1390" y2="650.2" stroke="#141414" stroke-width="3.6" stroke-linecap="butt"/>
<text x="1370" y="659.2" font-size="35" text-anchor="end" fill="#141414" textLength="47.1" lengthAdjust="spacingAndGlyphs" stroke="#141414" stroke-width="0.55">2.0</text>
<line x1="1378.4" y1="728.3" x2="1390" y2="728.3" stroke="#141414" stroke-width="3.6" stroke-linecap="butt"/>
<text x="1370" y="737.3" font-size="35" text-anchor="end" fill="#141414" textLength="47.1" lengthAdjust="spacingAndGlyphs" stroke="#141414" stroke-width="0.55">1.5</text>
<line x1="1378.4" y1="806.4" x2="1390" y2="806.4" stroke="#141414" stroke-width="3.6" stroke-linecap="butt"/>
<text x="1370" y="815.4" font-size="35" text-anchor="end" fill="#141414" textLength="47.1" lengthAdjust="spacingAndGlyphs" stroke="#141414" stroke-width="0.55">1.0</text>
<line x1="1378.4" y1="884.9" x2="1390" y2="884.9" stroke="#141414" stroke-width="3.6" stroke-linecap="butt"/>
<text x="1370" y="893.9" font-size="35" text-anchor="end" fill="#141414" textLength="47.1" lengthAdjust="spacingAndGlyphs" stroke="#141414" stroke-width="0.55">0.5</text>
<line x1="1378.4" y1="963.3" x2="1390" y2="963.3" stroke="#141414" stroke-width="3.6" stroke-linecap="butt"/>
<text x="1370" y="972.3" font-size="35" text-anchor="end" fill="#141414" textLength="47.1" lengthAdjust="spacingAndGlyphs" stroke="#141414" stroke-width="0.55">0.0</text>
<line x1="1487" y1="963.3" x2="1487" y2="975.7" stroke="#141414" stroke-width="3.6" stroke-linecap="butt"/>
<line x1="1633.3" y1="963.3" x2="1633.3" y2="975.7" stroke="#141414" stroke-width="3.6" stroke-linecap="butt"/>
<text x="1431.4" y="1005.7" font-size="35" text-anchor="start" fill="#141414" textLength="109.6" lengthAdjust="spacingAndGlyphs" stroke="#141414" stroke-width="0.55">Normal</text>
<text x="1432.1" y="1046.3" font-size="35" text-anchor="start" fill="#141414" textLength="99.2" lengthAdjust="spacingAndGlyphs" stroke="#141414" stroke-width="0.55">(n=13)</text>
<text x="1578.7" y="1005.7" font-size="35" text-anchor="start" fill="#141414" textLength="97.0" lengthAdjust="spacingAndGlyphs" stroke="#141414" stroke-width="0.55">Tumor</text>
<text x="1578.1" y="1046.3" font-size="35" text-anchor="start" fill="#141414" textLength="99.2" lengthAdjust="spacingAndGlyphs" stroke="#141414" stroke-width="0.55">(n=13)</text>
<line x1="1485.4" y1="660.3" x2="1637.4" y2="660.3" stroke="#141414" stroke-width="4" stroke-linecap="butt"/>
<text x="1562.3" y="650" font-size="37" text-anchor="middle" fill="#141414" stroke="#141414" stroke-width="0.55">NS</text>
<circle cx="1487" cy="735.3" r="8.3" fill="#141414"/>
<circle cx="1487" cy="771.9" r="8.3" fill="#141414"/>
<circle cx="1511.8" cy="775.7" r="8.3" fill="#141414"/>
<circle cx="1462.2" cy="793.6" r="8.3" fill="#141414"/>
<circle cx="1487" cy="794.3" r="8.3" fill="#141414"/>
<circle cx="1487" cy="805.1" r="8.3" fill="#141414"/>
<circle cx="1511.8" cy="808.2" r="8.3" fill="#141414"/>
<circle cx="1462.8" cy="812.9" r="8.3" fill="#141414"/>
<circle cx="1449.8" cy="816" r="8.3" fill="#141414"/>
<circle cx="1474.6" cy="831.5" r="8.3" fill="#141414"/>
<circle cx="1499.4" cy="832.1" r="8.3" fill="#141414"/>
<circle cx="1523.6" cy="832.1" r="8.3" fill="#141414"/>
<circle cx="1487" cy="864" r="8.3" fill="#141414"/>
<line x1="1438.3" y1="805.1" x2="1536" y2="805.1" stroke="#141414" stroke-width="3" stroke-linecap="butt"/>
<line x1="1462.2" y1="771.9" x2="1511.2" y2="771.9" stroke="#141414" stroke-width="3" stroke-linecap="butt"/>
<line x1="1462.2" y1="838.6" x2="1511.2" y2="838.6" stroke="#141414" stroke-width="3" stroke-linecap="butt"/>
<line x1="1487" y1="771.9" x2="1487" y2="838.6" stroke="#141414" stroke-width="3" stroke-linecap="butt"/>
<path d="M1633.3 674.2L1642.3 684.2L1633.3 694.2L1624.3 684.2Z" fill="#e61e25"/>
<path d="M1620.9 703L1629.9 713L1620.9 723L1611.9 713Z" fill="#e61e25"/>
<path d="M1645.1 709.8L1654.1 719.8L1645.1 729.8L1636.1 719.8Z" fill="#e61e25"/>
<path d="M1596.4 748L1605.4 758L1596.4 768L1587.4 758Z" fill="#e61e25"/>
<path d="M1620.9 752.6L1629.9 762.6L1620.9 772.6L1611.9 762.6Z" fill="#e61e25"/>
<path d="M1645.1 753.3L1654.1 763.3L1645.1 773.3L1636.1 763.3Z" fill="#e61e25"/>
<path d="M1669.9 767.2L1678.9 777.2L1669.9 787.2L1660.9 777.2Z" fill="#e61e25"/>
<path d="M1645.1 792L1654.1 802L1645.1 812L1636.1 802Z" fill="#e61e25"/>
<path d="M1620.9 794.2L1629.9 804.2L1620.9 814.2L1611.9 804.2Z" fill="#e61e25"/>
<path d="M1620.3 804.4L1629.3 814.4L1620.3 824.4L1611.3 814.4Z" fill="#e61e25"/>
<path d="M1620.9 821.5L1629.9 831.5L1620.9 841.5L1611.9 831.5Z" fill="#e61e25"/>
<path d="M1645.1 819.9L1654.1 829.9L1645.1 839.9L1636.1 829.9Z" fill="#e61e25"/>
<path d="M1645.1 845.3L1654.1 855.3L1645.1 865.3L1636.1 855.3Z" fill="#e61e25"/>
<line x1="1584" y1="777.8" x2="1681.4" y2="777.8" stroke="#e61e25" stroke-width="3" stroke-linecap="butt"/>
<line x1="1609.5" y1="726.7" x2="1657.5" y2="726.7" stroke="#e61e25" stroke-width="3" stroke-linecap="butt"/>
<line x1="1609.5" y1="829" x2="1657.5" y2="829" stroke="#e61e25" stroke-width="3" stroke-linecap="butt"/>
<line x1="1633.3" y1="726.7" x2="1633.3" y2="829" stroke="#e61e25" stroke-width="3" stroke-linecap="butt"/>
<text x="106.8" y="1151" font-size="38.6" text-anchor="start" fill="#141414" textLength="313" lengthAdjust="spacingAndGlyphs" stroke="#141414" stroke-width="0.55">hsa_circ_0032463</text>
<text x="106.8" y="1196" font-size="38.6" text-anchor="start" fill="#141414" textLength="489" lengthAdjust="spacingAndGlyphs" stroke="#141414" stroke-width="0.55">chr14: 72054287-72117226+</text>
<text x="106.8" y="1242.8" font-size="38.6" text-anchor="start" fill="#141414" textLength="207.4" lengthAdjust="spacingAndGlyphs" stroke="#141414" stroke-width="0.55">NM_015556</text>
<text x="106.8" y="1288.7" font-size="38.6" text-anchor="start" fill="#141414" textLength="84.3" lengthAdjust="spacingAndGlyphs" stroke="#141414" stroke-width="0.55">2295</text>
<text x="631.6" y="1146.2" font-size="33" text-anchor="start" fill="#141414" textLength="74" lengthAdjust="spacingAndGlyphs" stroke="#141414" stroke-width="0.55">2295</text>
<path d="M739 1146.3L735.3 1146.3L735.3 1129.2Q731.8 1132.8 727.2 1134.6L727.2 1131.2Q733.6 1128.2 736.6 1123L739 1123Z" fill="#141414" stroke="#141414" stroke-width="0.5"/>
<line x1="718" y1="1147" x2="718" y2="1181" stroke="#141414" stroke-width="4.5" stroke-linecap="butt"/>
<text x="607" y="1198" font-size="34" text-anchor="start" fill="#e4463a" transform="rotate(-14 607 1198)" stroke="#e4463a" stroke-width="0.55">F</text>
<line x1="631.6" y1="1178.1" x2="680" y2="1167" stroke="#ea1e22" stroke-width="4.5" stroke-linecap="butt"/>
<path d="M694.4 1160.2L669.5 1156.4L682 1176.6Z" fill="#ea1e22"/>
<line x1="792.6" y1="1169.2" x2="756" y2="1164.4" stroke="#2250a6" stroke-width="4.5" stroke-linecap="butt"/>
<path d="M739.2 1163.4L758.6 1154.8L756 1173.8Z" fill="#2250a6"/>
<text x="810" y="1178.1" font-size="33.5" text-anchor="start" fill="#3a5eb0" stroke="#3a5eb0" stroke-width="0.5">R</text>
<line x1="938.6" y1="1156" x2="987.8" y2="1156" stroke="#8e2c8c" stroke-width="3.8" stroke-linecap="butt"/>
<line x1="938.6" y1="1197.2" x2="987.8" y2="1197.2" stroke="#46a84e" stroke-width="3.8" stroke-linecap="butt"/>
<text x="1000.8" y="1165.5" font-size="34.6" text-anchor="start" fill="#141414" textLength="174.9" lengthAdjust="spacingAndGlyphs" stroke="#141414" stroke-width="0.55">Start codon</text>
<text x="1000.8" y="1206.2" font-size="34.6" text-anchor="start" fill="#141414" textLength="72.2" lengthAdjust="spacingAndGlyphs" stroke="#141414" stroke-width="0.55">CDS</text>
<circle cx="718.2" cy="1485.6" r="306.0" fill="#dc1f2b"/>
<path d="M718.2 1173.6A312.0 312.0 0 0 0 548.1 1224.1L595.7 1290.1L718.2 1256.3Z" fill="#f3a5c0" clip-path="url(#ringclip)"/>
<path d="M548.1 1224.1A312.0 312.0 0 0 0 430.1 1365.9L499.4 1399.9L595.7 1290.1Z" fill="#3f4f9e" clip-path="url(#ringclip)"/>
<path d="M430.1 1365.9A312.0 312.0 0 0 0 406.3 1476.3L480.0 1484.7L499.4 1399.9Z" fill="#43a548" clip-path="url(#ringclip)"/>
<circle cx="718.2" cy="1485.6" r="306.0" fill="none" stroke="#4e3c3a" stroke-width="1.9"/>
<circle cx="718.0" cy="1494.5" r="241.2" fill="#fff" stroke="#4e3c3a" stroke-width="1.9"/>
<path d="M719.5 1270.0A224.0 224.0 0 1 0 876.0 1334.2" fill="none" stroke="#4fae5a" stroke-width="2.8"/>
<line x1="868.6" y1="1334" x2="874.0" y2="1341.6" stroke="#b050b0" stroke-width="3" stroke-linecap="butt"/>
<text x="675.5" y="1332" font-size="32.5" text-anchor="middle" fill="#141414" stroke="#141414" stroke-width="0.5" transform="rotate(76 675.5 1332)" dy="9.8">exon8</text>
<text x="591.7" y="1385.5" font-size="32.5" text-anchor="middle" fill="#141414" stroke="#141414" stroke-width="0.5" transform="rotate(44 591.7 1385.5)" dy="9.8">exon7</text>
<text x="549" y="1462" font-size="32.5" text-anchor="middle" fill="#141414" stroke="#141414" stroke-width="0.5" transform="rotate(18 549 1462)" dy="9.8">exon5</text>
<text x="817" y="1633.5" font-size="32.5" text-anchor="middle" fill="#141414" stroke="#141414" stroke-width="0.5" transform="rotate(48 817 1633.5)" dy="9.8">exon5</text>
<text x="644.5" y="1500.8" font-size="37.5" text-anchor="start" fill="#141414" textLength="145.3" lengthAdjust="spacingAndGlyphs" stroke="#141414" stroke-width="0.55">SIPA1L1</text>
<clipPath id="ci1"><circle cx="1472.3" cy="1417.2" r="153"/></clipPath>
<circle cx="1472.3" cy="1417.2" r="153" fill="#f09c7d"/>
<circle cx="1644.7" cy="1417.2" r="153" fill="#afcee8"/>
<circle cx="1644.7" cy="1417.2" r="153" fill="#8c87a6" clip-path="url(#ci1)"/>
<text x="1320.3" y="1243.4" font-size="39.3" text-anchor="start" fill="#141414" textLength="186.6" lengthAdjust="spacingAndGlyphs" stroke="#141414" stroke-width="0.55">GSE16088</text>
<text x="1617.2" y="1243.4" font-size="39.3" text-anchor="start" fill="#141414" textLength="184.6" lengthAdjust="spacingAndGlyphs" stroke="#141414" stroke-width="0.55">GSE12865</text>
<text x="1425" y="1432" font-size="38" text-anchor="middle" fill="#141414" stroke="#141414" stroke-width="0.55">2978</text>
<text x="1554.6" y="1432" font-size="38" text-anchor="middle" fill="#141414" stroke="#141414" stroke-width="0.55">162</text>
<text x="1702.3" y="1432" font-size="38" text-anchor="middle" fill="#141414" stroke="#141414" stroke-width="0.55">1217</text>
<clipPath id="ck1"><circle cx="1407" cy="2022.2" r="152.4"/></clipPath>
<clipPath id="ck2"><circle cx="1579.8" cy="2022.2" r="152.4"/></clipPath>
<circle cx="1407" cy="2022.2" r="152.4" fill="#f09c7d"/>
<circle cx="1579.8" cy="2022.2" r="152.4" fill="#afcee8"/>
<circle cx="1495.2" cy="2143.3" r="152.4" fill="#c4dc9b"/>
<circle cx="1579.8" cy="2022.2" r="152.4" fill="#8c87a6" clip-path="url(#ck1)"/>
<circle cx="1495.2" cy="2143.3" r="152.4" fill="#bf7a4c" clip-path="url(#ck1)"/>
<circle cx="1495.2" cy="2143.3" r="152.4" fill="#80c4a4" clip-path="url(#ck2)"/>
<g clip-path="url(#ck1)"><circle cx="1495.2" cy="2143.3" r="152.4" fill="#7d8c82" clip-path="url(#ck2)"/></g>
<text x="1241" y="1848.7" font-size="39.3" text-anchor="start" fill="#141414" textLength="269.7" lengthAdjust="spacingAndGlyphs" stroke="#141414" stroke-width="0.55">CircInteractome</text>
<text x="1575.9" y="1848.7" font-size="39.3" text-anchor="start" fill="#141414" textLength="149.4" lengthAdjust="spacingAndGlyphs" stroke="#141414" stroke-width="0.55">starBase</text>
<text x="1382.7" y="2333.9" font-size="39.3" text-anchor="start" fill="#141414" textLength="193.2" lengthAdjust="spacingAndGlyphs" stroke="#141414" stroke-width="0.55">TargetScan</text>
<text x="1338.9" y="2003.3" font-size="38" text-anchor="middle" fill="#141414" stroke="#141414" stroke-width="0.55">75</text>
<text x="1485.8" y="1968.9" font-size="38" text-anchor="middle" fill="#141414" stroke="#141414" stroke-width="0.55">4</text>
<text x="1644.6" y="2003.3" font-size="38" text-anchor="middle" fill="#141414" stroke="#141414" stroke-width="0.55">73</text>
<text x="1485.8" y="2071.1" font-size="38" text-anchor="middle" fill="#141414" stroke="#141414" stroke-width="0.55">2</text>
<text x="1402" y="2118.3" font-size="38" text-anchor="middle" fill="#141414" stroke="#141414" stroke-width="0.55">3</text>
<text x="1585.8" y="2118.3" font-size="38" text-anchor="middle" fill="#141414" stroke="#141414" stroke-width="0.55">88</text>
<text x="1495.6" y="2230.8" font-size="38" text-anchor="middle" fill="#141414" stroke="#141414" stroke-width="0.55">282</text>
<g filter="url(#soft)">
<line x1="303.7" y1="1850.8" x2="306.1" y2="1930.2" stroke="#737375" stroke-width="2.5"/>
<line x1="303.7" y1="1850.8" x2="248.6" y2="1880.2" stroke="#737375" stroke-width="2.5"/>
<line x1="248.6" y1="1880.2" x2="306.1" y2="1930.2" stroke="#737375" stroke-width="2.5"/>
<line x1="306.1" y1="1930.2" x2="343.8" y2="2005.4" stroke="#737375" stroke-width="2.5"/>
<line x1="378.2" y1="1941.9" x2="343.8" y2="2005.4" stroke="#737375" stroke-width="2.5"/>
<line x1="461.7" y1="1918.5" x2="548.1" y2="1905.2" stroke="#737375" stroke-width="2.5"/>
<line x1="546.8" y1="1945.3" x2="593.2" y2="1940.9" stroke="#737375" stroke-width="2.5"/>
<line x1="546.8" y1="1945.3" x2="578.5" y2="2017.3" stroke="#737375" stroke-width="2.5"/>
<line x1="593.2" y1="1940.9" x2="578.5" y2="2017.3" stroke="#737375" stroke-width="2.5"/>
<line x1="433.3" y1="1987" x2="503.1" y2="1978.6" stroke="#737375" stroke-width="2.5"/>
<line x1="343.8" y1="2005.4" x2="237.6" y2="2027.1" stroke="#737375" stroke-width="2.5"/>
<line x1="237.6" y1="2027.1" x2="159.2" y2="2028.1" stroke="#737375" stroke-width="2.5"/>
<line x1="343.8" y1="2005.4" x2="459.7" y2="2108.9" stroke="#737375" stroke-width="2.5"/>
<line x1="463" y1="2027.7" x2="459.7" y2="2108.9" stroke="#737375" stroke-width="2.5"/>
<line x1="578.5" y1="2017.3" x2="459.7" y2="2108.9" stroke="#737375" stroke-width="2.5"/>
<line x1="578.5" y1="2017.3" x2="664.5" y2="2005.4" stroke="#737375" stroke-width="2.5"/>
<line x1="381.5" y1="2101.2" x2="459.7" y2="2108.9" stroke="#737375" stroke-width="2.5"/>
<line x1="539.8" y1="2117.2" x2="459.7" y2="2108.9" stroke="#737375" stroke-width="2.5"/>
<line x1="302.7" y1="2147.3" x2="459.7" y2="2108.9" stroke="#737375" stroke-width="2.5"/>
<line x1="323.8" y1="2204" x2="459.7" y2="2108.9" stroke="#737375" stroke-width="2.5"/>
<line x1="440.6" y1="2182.3" x2="459.7" y2="2108.9" stroke="#737375" stroke-width="2.5"/>
<line x1="440.6" y1="2182.3" x2="405.6" y2="2244.8" stroke="#737375" stroke-width="2.5"/>
<line x1="459.7" y1="2108.9" x2="510.8" y2="2232.4" stroke="#737375" stroke-width="2.5"/>
<line x1="459.7" y1="2108.9" x2="571.8" y2="2181.8" stroke="#737375" stroke-width="2.5"/>
<line x1="571.8" y1="2181.8" x2="635.2" y2="2233.4" stroke="#737375" stroke-width="2.5"/>
<line x1="510.8" y1="2232.4" x2="544.1" y2="2307.5" stroke="#737375" stroke-width="2.5"/>
<line x1="405.6" y1="2244.8" x2="339.8" y2="2323.2" stroke="#737375" stroke-width="2.5"/>
<line x1="405.6" y1="2244.8" x2="398.9" y2="2345.9" stroke="#737375" stroke-width="2.5"/>
<line x1="339.8" y1="2323.2" x2="398.9" y2="2345.9" stroke="#737375" stroke-width="2.5"/>
<line x1="278" y1="2289.2" x2="304.4" y2="2374.3" stroke="#737375" stroke-width="2.5"/>
<line x1="304.4" y1="2374.3" x2="360.5" y2="2442.8" stroke="#737375" stroke-width="2.5"/>
<line x1="461.3" y1="2299.2" x2="514.1" y2="2346.6" stroke="#737375" stroke-width="2.5"/>
<line x1="514.1" y1="2346.6" x2="585.5" y2="2352.6" stroke="#737375" stroke-width="2.5"/>
<line x1="514.1" y1="2346.6" x2="545.8" y2="2412.7" stroke="#737375" stroke-width="2.5"/>
<line x1="585.5" y1="2352.6" x2="545.8" y2="2412.7" stroke="#737375" stroke-width="2.5"/>
<line x1="545.8" y1="2412.7" x2="548.1" y2="2483.8" stroke="#737375" stroke-width="2.5"/>
<line x1="753.7" y1="1850.1" x2="778.7" y2="1916.9" stroke="#737375" stroke-width="2.5"/>
<line x1="778.7" y1="1916.9" x2="837.2" y2="1983" stroke="#737375" stroke-width="2.5"/>
<line x1="694.3" y1="1923.6" x2="664.5" y2="2005.4" stroke="#737375" stroke-width="2.5"/>
<line x1="664.5" y1="2005.4" x2="739.3" y2="1982.7" stroke="#737375" stroke-width="2.5"/>
<line x1="664.5" y1="2005.4" x2="729.6" y2="2053.8" stroke="#737375" stroke-width="2.5"/>
<line x1="631.8" y1="2052.1" x2="711" y2="2093.2" stroke="#737375" stroke-width="2.5"/>
<line x1="631.8" y1="2052.1" x2="625.8" y2="2122.9" stroke="#737375" stroke-width="2.5"/>
<line x1="625.8" y1="2122.9" x2="711" y2="2093.2" stroke="#737375" stroke-width="2.5"/>
<line x1="625.8" y1="2122.9" x2="703.6" y2="2176.6" stroke="#737375" stroke-width="2.5"/>
<line x1="711" y1="2093.2" x2="703.6" y2="2176.6" stroke="#737375" stroke-width="2.5"/>
<line x1="711" y1="2093.2" x2="792.1" y2="2140.6" stroke="#737375" stroke-width="2.5"/>
<line x1="703.6" y1="2176.6" x2="792.1" y2="2140.6" stroke="#737375" stroke-width="2.5"/>
<line x1="792.1" y1="2140.6" x2="847.2" y2="2103.2" stroke="#737375" stroke-width="2.5"/>
<line x1="792.1" y1="2140.6" x2="875.6" y2="2149.9" stroke="#737375" stroke-width="2.5"/>
<line x1="792.1" y1="2140.6" x2="837.2" y2="2189" stroke="#737375" stroke-width="2.5"/>
<line x1="847.2" y1="2103.2" x2="875.6" y2="2149.9" stroke="#737375" stroke-width="2.5"/>
<line x1="847.2" y1="2103.2" x2="837.2" y2="2189" stroke="#737375" stroke-width="2.5"/>
<line x1="875.6" y1="2149.9" x2="837.2" y2="2189" stroke="#737375" stroke-width="2.5"/>
<line x1="717.6" y1="2237.4" x2="804.8" y2="2225.7" stroke="#737375" stroke-width="2.5"/>
<line x1="644.2" y1="2271.5" x2="720.3" y2="2327.6" stroke="#737375" stroke-width="2.5"/>
<line x1="720.3" y1="2327.6" x2="786.1" y2="2291.8" stroke="#737375" stroke-width="2.5"/>
<line x1="720.3" y1="2327.6" x2="713.6" y2="2422.7" stroke="#737375" stroke-width="2.5"/>
<line x1="713.6" y1="2422.7" x2="717" y2="2492.2" stroke="#737375" stroke-width="2.5"/>
<line x1="444.6" y1="2182.3" x2="461.2" y2="2114.9" stroke="#5c5c7c" stroke-width="2.4"/>
<line x1="438.6" y1="2182.3" x2="456.7" y2="2114.9" stroke="#737375" stroke-width="2.4"/>
<line x1="847.2" y1="2103.2" x2="837.2" y2="2189" stroke="#62627a" stroke-width="2.5"/>
<line x1="792.1" y1="2140.6" x2="875.6" y2="2149.9" stroke="#707078" stroke-width="2.5"/>
<circle cx="303.7" cy="1853.0" r="14.7" fill="#6e3a3e" filter="url(#b1)"/>
<circle cx="303.7" cy="1850.8" r="14.5" fill="url(#lr)" stroke="#924048" stroke-width="1.1"/>
<ellipse cx="303.7" cy="1843.3" rx="9.5" ry="4.6" fill="#fff" opacity="0.3"/>
<circle cx="248.6" cy="1882.4" r="14.7" fill="#646464" filter="url(#b1)"/>
<circle cx="248.6" cy="1880.2" r="14.5" fill="url(#lw)" stroke="#8c8c8c" stroke-width="1.1"/>
<rect x="242.6" y="1875.2" width="7" height="10" fill="#d0b8d8" opacity="0.75" filter="url(#b2)"/>
<rect x="248.1" y="1876.2" width="6.5" height="9" fill="#a8d0d8" opacity="0.75" filter="url(#b2)"/>
<ellipse cx="248.6" cy="1872.7" rx="9.5" ry="4.6" fill="#fff" opacity="0.45"/>
<circle cx="306.1" cy="1932.4" r="14.7" fill="#646464" filter="url(#b1)"/>
<circle cx="306.1" cy="1930.2" r="14.5" fill="url(#lw)" stroke="#8c8c8c" stroke-width="1.1"/>
<rect x="300.1" y="1925.2" width="7" height="10" fill="#a8c8e0" opacity="0.75" filter="url(#b2)"/>
<rect x="305.6" y="1926.2" width="6.5" height="9" fill="#b8d8a8" opacity="0.75" filter="url(#b2)"/>
<ellipse cx="306.1" cy="1922.7" rx="9.5" ry="4.6" fill="#fff" opacity="0.45"/>
<circle cx="378.2" cy="1944.1000000000001" r="14.7" fill="#646464" filter="url(#b1)"/>
<circle cx="378.2" cy="1941.9" r="14.5" fill="url(#lw)" stroke="#8c8c8c" stroke-width="1.1"/>
<rect x="372.2" y="1936.9" width="7" height="10" fill="#d8c8e8" opacity="0.75" filter="url(#b2)"/>
<rect x="377.7" y="1937.9" width="6.5" height="9" fill="#d8c8e8" opacity="0.75" filter="url(#b2)"/>
<ellipse cx="378.2" cy="1934.4" rx="9.5" ry="4.6" fill="#fff" opacity="0.45"/>
<circle cx="461.7" cy="1920.7" r="14.7" fill="#646464" filter="url(#b1)"/>
<circle cx="461.7" cy="1918.5" r="14.5" fill="url(#lw)" stroke="#8c8c8c" stroke-width="1.1"/>
<rect x="455.7" y="1913.5" width="7" height="10" fill="#d0b8d8" opacity="0.75" filter="url(#b2)"/>
<rect x="461.2" y="1914.5" width="6.5" height="9" fill="#b8d8a8" opacity="0.75" filter="url(#b2)"/>
<ellipse cx="461.7" cy="1911.0" rx="9.5" ry="4.6" fill="#fff" opacity="0.45"/>
<circle cx="548.1" cy="1907.4" r="14.7" fill="#646464" filter="url(#b1)"/>
<circle cx="548.1" cy="1905.2" r="14.5" fill="url(#lw)" stroke="#8c8c8c" stroke-width="1.1"/>
<rect x="542.1" y="1900.2" width="7" height="10" fill="#e0d8a0" opacity="0.75" filter="url(#b2)"/>
<rect x="547.6" y="1901.2" width="6.5" height="9" fill="#b8d8a8" opacity="0.75" filter="url(#b2)"/>
<ellipse cx="548.1" cy="1897.7" rx="9.5" ry="4.6" fill="#fff" opacity="0.45"/>
<circle cx="546.8" cy="1947.5" r="14.7" fill="#646464" filter="url(#b1)"/>
<circle cx="546.8" cy="1945.3" r="14.5" fill="url(#lw)" stroke="#8c8c8c" stroke-width="1.1"/>
<rect x="540.8" y="1940.3" width="7" height="10" fill="#d8c8e8" opacity="0.75" filter="url(#b2)"/>
<rect x="546.3" y="1941.3" width="6.5" height="9" fill="#a8c8e0" opacity="0.75" filter="url(#b2)"/>
<ellipse cx="546.8" cy="1937.8" rx="9.5" ry="4.6" fill="#fff" opacity="0.45"/>
<circle cx="593.2" cy="1943.1000000000001" r="14.7" fill="#646464" filter="url(#b1)"/>
<circle cx="593.2" cy="1940.9" r="14.5" fill="url(#lw)" stroke="#8c8c8c" stroke-width="1.1"/>
<rect x="587.2" y="1935.9" width="7" height="10" fill="#a8c8e0" opacity="0.75" filter="url(#b2)"/>
<rect x="592.7" y="1936.9" width="6.5" height="9" fill="#d8c8e8" opacity="0.75" filter="url(#b2)"/>
<ellipse cx="593.2" cy="1933.4" rx="9.5" ry="4.6" fill="#fff" opacity="0.45"/>
<circle cx="433.3" cy="1989.2" r="14.7" fill="#646464" filter="url(#b1)"/>
<circle cx="433.3" cy="1987" r="14.5" fill="url(#lw)" stroke="#8c8c8c" stroke-width="1.1"/>
<rect x="427.3" y="1982.0" width="7" height="10" fill="#e0d8a0" opacity="0.75" filter="url(#b2)"/>
<rect x="432.8" y="1983.0" width="6.5" height="9" fill="#d8c8e8" opacity="0.75" filter="url(#b2)"/>
<ellipse cx="433.3" cy="1979.5" rx="9.5" ry="4.6" fill="#fff" opacity="0.45"/>
<circle cx="503.1" cy="1980.8" r="14.7" fill="#646464" filter="url(#b1)"/>
<circle cx="503.1" cy="1978.6" r="14.5" fill="url(#lw)" stroke="#8c8c8c" stroke-width="1.1"/>
<rect x="497.1" y="1973.6" width="7" height="10" fill="#a8c8e0" opacity="0.75" filter="url(#b2)"/>
<rect x="502.6" y="1974.6" width="6.5" height="9" fill="#b8d8a8" opacity="0.75" filter="url(#b2)"/>
<ellipse cx="503.1" cy="1971.1" rx="9.5" ry="4.6" fill="#fff" opacity="0.45"/>
<circle cx="343.8" cy="2007.6000000000001" r="14.7" fill="#6e3a3e" filter="url(#b1)"/>
<circle cx="343.8" cy="2005.4" r="14.5" fill="url(#lr)" stroke="#924048" stroke-width="1.1"/>
<ellipse cx="343.8" cy="1997.9" rx="9.5" ry="4.6" fill="#fff" opacity="0.3"/>
<circle cx="237.6" cy="2029.3" r="14.7" fill="#6e3a3e" filter="url(#b1)"/>
<circle cx="237.6" cy="2027.1" r="14.5" fill="url(#lr)" stroke="#924048" stroke-width="1.1"/>
<ellipse cx="237.6" cy="2019.6" rx="9.5" ry="4.6" fill="#fff" opacity="0.3"/>
<circle cx="159.2" cy="2030.3" r="14.7" fill="#646464" filter="url(#b1)"/>
<circle cx="159.2" cy="2028.1" r="14.5" fill="url(#lw)" stroke="#8c8c8c" stroke-width="1.1"/>
<rect x="153.2" y="2023.1" width="7" height="10" fill="#d8c8e8" opacity="0.75" filter="url(#b2)"/>
<rect x="158.7" y="2024.1" width="6.5" height="9" fill="#e0d8a0" opacity="0.75" filter="url(#b2)"/>
<ellipse cx="159.2" cy="2020.6" rx="9.5" ry="4.6" fill="#fff" opacity="0.45"/>
<circle cx="463" cy="2029.9" r="14.7" fill="#646464" filter="url(#b1)"/>
<circle cx="463" cy="2027.7" r="14.5" fill="url(#lw)" stroke="#8c8c8c" stroke-width="1.1"/>
<rect x="457.0" y="2022.7" width="7" height="10" fill="#b8d8a8" opacity="0.75" filter="url(#b2)"/>
<rect x="462.5" y="2023.7" width="6.5" height="9" fill="#a8c8e0" opacity="0.75" filter="url(#b2)"/>
<ellipse cx="463" cy="2020.2" rx="9.5" ry="4.6" fill="#fff" opacity="0.45"/>
<circle cx="578.5" cy="2019.5" r="14.7" fill="#646464" filter="url(#b1)"/>
<circle cx="578.5" cy="2017.3" r="14.5" fill="url(#lw)" stroke="#8c8c8c" stroke-width="1.1"/>
<rect x="572.5" y="2012.3" width="7" height="10" fill="#b8d8a8" opacity="0.75" filter="url(#b2)"/>
<rect x="578.0" y="2013.3" width="6.5" height="9" fill="#e0d8a0" opacity="0.75" filter="url(#b2)"/>
<ellipse cx="578.5" cy="2009.8" rx="9.5" ry="4.6" fill="#fff" opacity="0.45"/>
<circle cx="381.5" cy="2103.3999999999996" r="14.7" fill="#646464" filter="url(#b1)"/>
<circle cx="381.5" cy="2101.2" r="14.5" fill="url(#lw)" stroke="#8c8c8c" stroke-width="1.1"/>
<rect x="375.5" y="2096.2" width="7" height="10" fill="#b8d8a8" opacity="0.75" filter="url(#b2)"/>
<rect x="381.0" y="2097.2" width="6.5" height="9" fill="#a8d0d8" opacity="0.75" filter="url(#b2)"/>
<ellipse cx="381.5" cy="2093.7" rx="9.5" ry="4.6" fill="#fff" opacity="0.45"/>
<circle cx="459.7" cy="2111.1" r="14.7" fill="#646464" filter="url(#b1)"/>
<circle cx="459.7" cy="2108.9" r="14.5" fill="url(#lw)" stroke="#8c8c8c" stroke-width="1.1"/>
<rect x="453.7" y="2103.9" width="7" height="10" fill="#c8e0c0" opacity="0.75" filter="url(#b2)"/>
<rect x="459.2" y="2104.9" width="6.5" height="9" fill="#a8c8e0" opacity="0.75" filter="url(#b2)"/>
<ellipse cx="459.7" cy="2101.4" rx="9.5" ry="4.6" fill="#fff" opacity="0.45"/>
<circle cx="539.8" cy="2119.3999999999996" r="14.7" fill="#646464" filter="url(#b1)"/>
<circle cx="539.8" cy="2117.2" r="14.5" fill="url(#lw)" stroke="#8c8c8c" stroke-width="1.1"/>
<rect x="533.8" y="2112.2" width="7" height="10" fill="#a8d0d8" opacity="0.75" filter="url(#b2)"/>
<rect x="539.3" y="2113.2" width="6.5" height="9" fill="#d8c8e8" opacity="0.75" filter="url(#b2)"/>
<ellipse cx="539.8" cy="2109.7" rx="9.5" ry="4.6" fill="#fff" opacity="0.45"/>
<circle cx="302.7" cy="2149.5" r="14.7" fill="#646464" filter="url(#b1)"/>
<circle cx="302.7" cy="2147.3" r="14.5" fill="url(#lw)" stroke="#8c8c8c" stroke-width="1.1"/>
<rect x="296.7" y="2142.3" width="7" height="10" fill="#c8e0c0" opacity="0.75" filter="url(#b2)"/>
<rect x="302.2" y="2143.3" width="6.5" height="9" fill="#a8d0d8" opacity="0.75" filter="url(#b2)"/>
<ellipse cx="302.7" cy="2139.8" rx="9.5" ry="4.6" fill="#fff" opacity="0.45"/>
<circle cx="440.6" cy="2184.5" r="14.7" fill="#646464" filter="url(#b1)"/>
<circle cx="440.6" cy="2182.3" r="14.5" fill="url(#lw)" stroke="#8c8c8c" stroke-width="1.1"/>
<rect x="434.6" y="2177.3" width="7" height="10" fill="#d8c8e8" opacity="0.75" filter="url(#b2)"/>
<rect x="440.1" y="2178.3" width="6.5" height="9" fill="#e0d8a0" opacity="0.75" filter="url(#b2)"/>
<ellipse cx="440.6" cy="2174.8" rx="9.5" ry="4.6" fill="#fff" opacity="0.45"/>
<circle cx="571.8" cy="2184.0" r="14.7" fill="#646464" filter="url(#b1)"/>
<circle cx="571.8" cy="2181.8" r="14.5" fill="url(#lw)" stroke="#8c8c8c" stroke-width="1.1"/>
<rect x="565.8" y="2176.8" width="7" height="10" fill="#d0b8d8" opacity="0.75" filter="url(#b2)"/>
<rect x="571.3" y="2177.8" width="6.5" height="9" fill="#d8c8e8" opacity="0.75" filter="url(#b2)"/>
<ellipse cx="571.8" cy="2174.3" rx="9.5" ry="4.6" fill="#fff" opacity="0.45"/>
<circle cx="323.8" cy="2206.2" r="14.7" fill="#646464" filter="url(#b1)"/>
<circle cx="323.8" cy="2204" r="14.5" fill="url(#lw)" stroke="#8c8c8c" stroke-width="1.1"/>
<rect x="317.8" y="2199.0" width="7" height="10" fill="#d8c8e8" opacity="0.75" filter="url(#b2)"/>
<rect x="323.3" y="2200.0" width="6.5" height="9" fill="#b8d8a8" opacity="0.75" filter="url(#b2)"/>
<ellipse cx="323.8" cy="2196.5" rx="9.5" ry="4.6" fill="#fff" opacity="0.45"/>
<circle cx="510.8" cy="2234.6" r="14.7" fill="#646464" filter="url(#b1)"/>
<circle cx="510.8" cy="2232.4" r="14.5" fill="url(#lw)" stroke="#8c8c8c" stroke-width="1.1"/>
<rect x="504.8" y="2227.4" width="7" height="10" fill="#e0d8a0" opacity="0.75" filter="url(#b2)"/>
<rect x="510.3" y="2228.4" width="6.5" height="9" fill="#e8c8b0" opacity="0.75" filter="url(#b2)"/>
<ellipse cx="510.8" cy="2224.9" rx="9.5" ry="4.6" fill="#fff" opacity="0.45"/>
<circle cx="405.6" cy="2247.0" r="14.7" fill="#646464" filter="url(#b1)"/>
<circle cx="405.6" cy="2244.8" r="14.5" fill="url(#lw)" stroke="#8c8c8c" stroke-width="1.1"/>
<rect x="399.6" y="2239.8" width="7" height="10" fill="#a8c8e0" opacity="0.75" filter="url(#b2)"/>
<rect x="405.1" y="2240.8" width="6.5" height="9" fill="#d0b8d8" opacity="0.75" filter="url(#b2)"/>
<ellipse cx="405.6" cy="2237.3" rx="9.5" ry="4.6" fill="#fff" opacity="0.45"/>
<circle cx="278" cy="2291.3999999999996" r="14.7" fill="#646464" filter="url(#b1)"/>
<circle cx="278" cy="2289.2" r="14.5" fill="url(#lw)" stroke="#8c8c8c" stroke-width="1.1"/>
<rect x="272.0" y="2284.2" width="7" height="10" fill="#e8c8b0" opacity="0.75" filter="url(#b2)"/>
<rect x="277.5" y="2285.2" width="6.5" height="9" fill="#e8c8b0" opacity="0.75" filter="url(#b2)"/>
<ellipse cx="278" cy="2281.7" rx="9.5" ry="4.6" fill="#fff" opacity="0.45"/>
<circle cx="461.3" cy="2301.3999999999996" r="14.7" fill="#6e3a3e" filter="url(#b1)"/>
<circle cx="461.3" cy="2299.2" r="14.5" fill="url(#lr)" stroke="#924048" stroke-width="1.1"/>
<ellipse cx="461.3" cy="2291.7" rx="9.5" ry="4.6" fill="#fff" opacity="0.3"/>
<circle cx="544.1" cy="2309.7" r="14.7" fill="#6e3a3e" filter="url(#b1)"/>
<circle cx="544.1" cy="2307.5" r="14.5" fill="url(#lr)" stroke="#924048" stroke-width="1.1"/>
<ellipse cx="544.1" cy="2300.0" rx="9.5" ry="4.6" fill="#fff" opacity="0.3"/>
<circle cx="339.8" cy="2325.3999999999996" r="14.7" fill="#646464" filter="url(#b1)"/>
<circle cx="339.8" cy="2323.2" r="14.5" fill="url(#lw)" stroke="#8c8c8c" stroke-width="1.1"/>
<rect x="333.8" y="2318.2" width="7" height="10" fill="#d0b8d8" opacity="0.75" filter="url(#b2)"/>
<rect x="339.3" y="2319.2" width="6.5" height="9" fill="#c8e0c0" opacity="0.75" filter="url(#b2)"/>
<ellipse cx="339.8" cy="2315.7" rx="9.5" ry="4.6" fill="#fff" opacity="0.45"/>
<circle cx="398.9" cy="2348.1" r="14.7" fill="#646464" filter="url(#b1)"/>
<circle cx="398.9" cy="2345.9" r="14.5" fill="url(#lw)" stroke="#8c8c8c" stroke-width="1.1"/>
<rect x="392.9" y="2340.9" width="7" height="10" fill="#e0d8a0" opacity="0.75" filter="url(#b2)"/>
<rect x="398.4" y="2341.9" width="6.5" height="9" fill="#a8d0d8" opacity="0.75" filter="url(#b2)"/>
<ellipse cx="398.9" cy="2338.4" rx="9.5" ry="4.6" fill="#fff" opacity="0.45"/>
<circle cx="514.1" cy="2348.7999999999997" r="14.7" fill="#646464" filter="url(#b1)"/>
<circle cx="514.1" cy="2346.6" r="14.5" fill="url(#lw)" stroke="#8c8c8c" stroke-width="1.1"/>
<rect x="508.1" y="2341.6" width="7" height="10" fill="#e0d8a0" opacity="0.75" filter="url(#b2)"/>
<rect x="513.6" y="2342.6" width="6.5" height="9" fill="#d8c8e8" opacity="0.75" filter="url(#b2)"/>
<ellipse cx="514.1" cy="2339.1" rx="9.5" ry="4.6" fill="#fff" opacity="0.45"/>
<circle cx="585.5" cy="2354.7999999999997" r="14.7" fill="#646464" filter="url(#b1)"/>
<circle cx="585.5" cy="2352.6" r="14.5" fill="url(#lw)" stroke="#8c8c8c" stroke-width="1.1"/>
<rect x="579.5" y="2347.6" width="7" height="10" fill="#c8e0c0" opacity="0.75" filter="url(#b2)"/>
<rect x="585.0" y="2348.6" width="6.5" height="9" fill="#e8c8b0" opacity="0.75" filter="url(#b2)"/>
<ellipse cx="585.5" cy="2345.1" rx="9.5" ry="4.6" fill="#fff" opacity="0.45"/>
<circle cx="304.4" cy="2376.5" r="14.7" fill="#646464" filter="url(#b1)"/>
<circle cx="304.4" cy="2374.3" r="14.5" fill="url(#lw)" stroke="#8c8c8c" stroke-width="1.1"/>
<rect x="298.4" y="2369.3" width="7" height="10" fill="#d0b8d8" opacity="0.75" filter="url(#b2)"/>
<rect x="303.9" y="2370.3" width="6.5" height="9" fill="#e8c8b0" opacity="0.75" filter="url(#b2)"/>
<ellipse cx="304.4" cy="2366.8" rx="9.5" ry="4.6" fill="#fff" opacity="0.45"/>
<circle cx="545.8" cy="2414.8999999999996" r="14.7" fill="#6e3a3e" filter="url(#b1)"/>
<circle cx="545.8" cy="2412.7" r="14.5" fill="url(#lr)" stroke="#924048" stroke-width="1.1"/>
<ellipse cx="545.8" cy="2405.2" rx="9.5" ry="4.6" fill="#fff" opacity="0.3"/>
<circle cx="360.5" cy="2445.0" r="14.7" fill="#646464" filter="url(#b1)"/>
<circle cx="360.5" cy="2442.8" r="14.5" fill="url(#lw)" stroke="#8c8c8c" stroke-width="1.1"/>
<rect x="354.5" y="2437.8" width="7" height="10" fill="#c8e0c0" opacity="0.75" filter="url(#b2)"/>
<rect x="360.0" y="2438.8" width="6.5" height="9" fill="#d8c8e8" opacity="0.75" filter="url(#b2)"/>
<ellipse cx="360.5" cy="2435.3" rx="9.5" ry="4.6" fill="#fff" opacity="0.45"/>
<circle cx="548.1" cy="2486.0" r="14.7" fill="#646464" filter="url(#b1)"/>
<circle cx="548.1" cy="2483.8" r="14.5" fill="url(#lw)" stroke="#8c8c8c" stroke-width="1.1"/>
<rect x="542.1" y="2478.8" width="7" height="10" fill="#d8c8e8" opacity="0.75" filter="url(#b2)"/>
<rect x="547.6" y="2479.8" width="6.5" height="9" fill="#a8c8e0" opacity="0.75" filter="url(#b2)"/>
<ellipse cx="548.1" cy="2476.3" rx="9.5" ry="4.6" fill="#fff" opacity="0.45"/>
<circle cx="753.7" cy="1852.3" r="14.7" fill="#646464" filter="url(#b1)"/>
<circle cx="753.7" cy="1850.1" r="14.5" fill="url(#lw)" stroke="#8c8c8c" stroke-width="1.1"/>
<rect x="747.7" y="1845.1" width="7" height="10" fill="#a8d0d8" opacity="0.75" filter="url(#b2)"/>
<rect x="753.2" y="1846.1" width="6.5" height="9" fill="#d0b8d8" opacity="0.75" filter="url(#b2)"/>
<ellipse cx="753.7" cy="1842.6" rx="9.5" ry="4.6" fill="#fff" opacity="0.45"/>
<circle cx="778.7" cy="1919.1000000000001" r="14.7" fill="#646464" filter="url(#b1)"/>
<circle cx="778.7" cy="1916.9" r="14.5" fill="url(#lw)" stroke="#8c8c8c" stroke-width="1.1"/>
<rect x="772.7" y="1911.9" width="7" height="10" fill="#a8d0d8" opacity="0.75" filter="url(#b2)"/>
<rect x="778.2" y="1912.9" width="6.5" height="9" fill="#e8c8b0" opacity="0.75" filter="url(#b2)"/>
<ellipse cx="778.7" cy="1909.4" rx="9.5" ry="4.6" fill="#fff" opacity="0.45"/>
<circle cx="694.3" cy="1925.8" r="14.7" fill="#646464" filter="url(#b1)"/>
<circle cx="694.3" cy="1923.6" r="14.5" fill="url(#lw)" stroke="#8c8c8c" stroke-width="1.1"/>
<rect x="688.3" y="1918.6" width="7" height="10" fill="#a8c8e0" opacity="0.75" filter="url(#b2)"/>
<rect x="693.8" y="1919.6" width="6.5" height="9" fill="#b8d8a8" opacity="0.75" filter="url(#b2)"/>
<ellipse cx="694.3" cy="1916.1" rx="9.5" ry="4.6" fill="#fff" opacity="0.45"/>
<circle cx="837.2" cy="1985.2" r="14.7" fill="#646464" filter="url(#b1)"/>
<circle cx="837.2" cy="1983" r="14.5" fill="url(#lw)" stroke="#8c8c8c" stroke-width="1.1"/>
<rect x="831.2" y="1978.0" width="7" height="10" fill="#d8c8e8" opacity="0.75" filter="url(#b2)"/>
<rect x="836.7" y="1979.0" width="6.5" height="9" fill="#d0b8d8" opacity="0.75" filter="url(#b2)"/>
<ellipse cx="837.2" cy="1975.5" rx="9.5" ry="4.6" fill="#fff" opacity="0.45"/>
<circle cx="739.3" cy="1984.9" r="14.7" fill="#646464" filter="url(#b1)"/>
<circle cx="739.3" cy="1982.7" r="14.5" fill="url(#lw)" stroke="#8c8c8c" stroke-width="1.1"/>
<rect x="733.3" y="1977.7" width="7" height="10" fill="#d0b8d8" opacity="0.75" filter="url(#b2)"/>
<rect x="738.8" y="1978.7" width="6.5" height="9" fill="#d0b8d8" opacity="0.75" filter="url(#b2)"/>
<ellipse cx="739.3" cy="1975.2" rx="9.5" ry="4.6" fill="#fff" opacity="0.45"/>
<circle cx="664.5" cy="2007.6000000000001" r="14.7" fill="#646464" filter="url(#b1)"/>
<circle cx="664.5" cy="2005.4" r="14.5" fill="url(#lw)" stroke="#8c8c8c" stroke-width="1.1"/>
<rect x="658.5" y="2000.4" width="7" height="10" fill="#e8c8b0" opacity="0.75" filter="url(#b2)"/>
<rect x="664.0" y="2001.4" width="6.5" height="9" fill="#e8c8b0" opacity="0.75" filter="url(#b2)"/>
<ellipse cx="664.5" cy="1997.9" rx="9.5" ry="4.6" fill="#fff" opacity="0.45"/>
<circle cx="729.6" cy="2056.0" r="14.7" fill="#6e3a3e" filter="url(#b1)"/>
<circle cx="729.6" cy="2053.8" r="14.5" fill="url(#lr)" stroke="#924048" stroke-width="1.1"/>
<ellipse cx="729.6" cy="2046.3000000000002" rx="9.5" ry="4.6" fill="#fff" opacity="0.3"/>
<circle cx="631.8" cy="2054.2999999999997" r="14.7" fill="#646464" filter="url(#b1)"/>
<circle cx="631.8" cy="2052.1" r="14.5" fill="url(#lw)" stroke="#8c8c8c" stroke-width="1.1"/>
<rect x="625.8" y="2047.1" width="7" height="10" fill="#d8c8e8" opacity="0.75" filter="url(#b2)"/>
<rect x="631.3" y="2048.1" width="6.5" height="9" fill="#d8c8e8" opacity="0.75" filter="url(#b2)"/>
<ellipse cx="631.8" cy="2044.6" rx="9.5" ry="4.6" fill="#fff" opacity="0.45"/>
<circle cx="711" cy="2095.3999999999996" r="14.7" fill="#646464" filter="url(#b1)"/>
<circle cx="711" cy="2093.2" r="14.5" fill="url(#lw)" stroke="#8c8c8c" stroke-width="1.1"/>
<rect x="705.0" y="2088.2" width="7" height="10" fill="#c8e0c0" opacity="0.75" filter="url(#b2)"/>
<rect x="710.5" y="2089.2" width="6.5" height="9" fill="#e8c8b0" opacity="0.75" filter="url(#b2)"/>
<ellipse cx="711" cy="2085.7" rx="9.5" ry="4.6" fill="#fff" opacity="0.45"/>
<circle cx="847.2" cy="2105.3999999999996" r="14.7" fill="#646464" filter="url(#b1)"/>
<circle cx="847.2" cy="2103.2" r="14.5" fill="url(#lw)" stroke="#8c8c8c" stroke-width="1.1"/>
<rect x="841.2" y="2098.2" width="7" height="10" fill="#d8c8e8" opacity="0.75" filter="url(#b2)"/>
<rect x="846.7" y="2099.2" width="6.5" height="9" fill="#b8d8a8" opacity="0.75" filter="url(#b2)"/>
<ellipse cx="847.2" cy="2095.7" rx="9.5" ry="4.6" fill="#fff" opacity="0.45"/>
<circle cx="625.8" cy="2125.1" r="14.7" fill="#646464" filter="url(#b1)"/>
<circle cx="625.8" cy="2122.9" r="14.5" fill="url(#lw)" stroke="#8c8c8c" stroke-width="1.1"/>
<rect x="619.8" y="2117.9" width="7" height="10" fill="#c8e0c0" opacity="0.75" filter="url(#b2)"/>
<rect x="625.3" y="2118.9" width="6.5" height="9" fill="#e8c8b0" opacity="0.75" filter="url(#b2)"/>
<ellipse cx="625.8" cy="2115.4" rx="9.5" ry="4.6" fill="#fff" opacity="0.45"/>
<circle cx="792.1" cy="2142.7999999999997" r="14.7" fill="#646464" filter="url(#b1)"/>
<circle cx="792.1" cy="2140.6" r="14.5" fill="url(#lw)" stroke="#8c8c8c" stroke-width="1.1"/>
<rect x="786.1" y="2135.6" width="7" height="10" fill="#c8e0c0" opacity="0.75" filter="url(#b2)"/>
<rect x="791.6" y="2136.6" width="6.5" height="9" fill="#a8c8e0" opacity="0.75" filter="url(#b2)"/>
<ellipse cx="792.1" cy="2133.1" rx="9.5" ry="4.6" fill="#fff" opacity="0.45"/>
<circle cx="875.6" cy="2152.1" r="14.7" fill="#646464" filter="url(#b1)"/>
<circle cx="875.6" cy="2149.9" r="14.5" fill="url(#lw)" stroke="#8c8c8c" stroke-width="1.1"/>
<rect x="869.6" y="2144.9" width="7" height="10" fill="#d0b8d8" opacity="0.75" filter="url(#b2)"/>
<rect x="875.1" y="2145.9" width="6.5" height="9" fill="#b8d8a8" opacity="0.75" filter="url(#b2)"/>
<ellipse cx="875.6" cy="2142.4" rx="9.5" ry="4.6" fill="#fff" opacity="0.45"/>
<circle cx="703.6" cy="2178.7999999999997" r="14.7" fill="#6e3a3e" filter="url(#b1)"/>
<circle cx="703.6" cy="2176.6" r="14.5" fill="url(#lr)" stroke="#924048" stroke-width="1.1"/>
<ellipse cx="703.6" cy="2169.1" rx="9.5" ry="4.6" fill="#fff" opacity="0.3"/>
<circle cx="837.2" cy="2191.2" r="14.7" fill="#646464" filter="url(#b1)"/>
<circle cx="837.2" cy="2189" r="14.5" fill="url(#lw)" stroke="#8c8c8c" stroke-width="1.1"/>
<rect x="831.2" y="2184.0" width="7" height="10" fill="#e8c8b0" opacity="0.75" filter="url(#b2)"/>
<rect x="836.7" y="2185.0" width="6.5" height="9" fill="#d0b8d8" opacity="0.75" filter="url(#b2)"/>
<ellipse cx="837.2" cy="2181.5" rx="9.5" ry="4.6" fill="#fff" opacity="0.45"/>
<circle cx="804.8" cy="2227.8999999999996" r="14.7" fill="#646464" filter="url(#b1)"/>
<circle cx="804.8" cy="2225.7" r="14.5" fill="url(#lw)" stroke="#8c8c8c" stroke-width="1.1"/>
<rect x="798.8" y="2220.7" width="7" height="10" fill="#a8d0d8" opacity="0.75" filter="url(#b2)"/>
<rect x="804.3" y="2221.7" width="6.5" height="9" fill="#d8c8e8" opacity="0.75" filter="url(#b2)"/>
<ellipse cx="804.8" cy="2218.2" rx="9.5" ry="4.6" fill="#fff" opacity="0.45"/>
<circle cx="717.6" cy="2239.6" r="14.7" fill="#646464" filter="url(#b1)"/>
<circle cx="717.6" cy="2237.4" r="14.5" fill="url(#lw)" stroke="#8c8c8c" stroke-width="1.1"/>
<rect x="711.6" y="2232.4" width="7" height="10" fill="#e8c8b0" opacity="0.75" filter="url(#b2)"/>
<rect x="717.1" y="2233.4" width="6.5" height="9" fill="#b8d8a8" opacity="0.75" filter="url(#b2)"/>
<ellipse cx="717.6" cy="2229.9" rx="9.5" ry="4.6" fill="#fff" opacity="0.45"/>
<circle cx="635.2" cy="2235.6" r="14.7" fill="#646464" filter="url(#b1)"/>
<circle cx="635.2" cy="2233.4" r="14.5" fill="url(#lw)" stroke="#8c8c8c" stroke-width="1.1"/>
<rect x="629.2" y="2228.4" width="7" height="10" fill="#e0d8a0" opacity="0.75" filter="url(#b2)"/>
<rect x="634.7" y="2229.4" width="6.5" height="9" fill="#c8e0c0" opacity="0.75" filter="url(#b2)"/>
<ellipse cx="635.2" cy="2225.9" rx="9.5" ry="4.6" fill="#fff" opacity="0.45"/>
<circle cx="644.2" cy="2273.7" r="14.7" fill="#646464" filter="url(#b1)"/>
<circle cx="644.2" cy="2271.5" r="14.5" fill="url(#lw)" stroke="#8c8c8c" stroke-width="1.1"/>
<rect x="638.2" y="2266.5" width="7" height="10" fill="#a8d0d8" opacity="0.75" filter="url(#b2)"/>
<rect x="643.7" y="2267.5" width="6.5" height="9" fill="#e0d8a0" opacity="0.75" filter="url(#b2)"/>
<ellipse cx="644.2" cy="2264.0" rx="9.5" ry="4.6" fill="#fff" opacity="0.45"/>
<circle cx="786.1" cy="2294.0" r="14.7" fill="#646464" filter="url(#b1)"/>
<circle cx="786.1" cy="2291.8" r="14.5" fill="url(#lw)" stroke="#8c8c8c" stroke-width="1.1"/>
<rect x="780.1" y="2286.8" width="7" height="10" fill="#a8c8e0" opacity="0.75" filter="url(#b2)"/>
<rect x="785.6" y="2287.8" width="6.5" height="9" fill="#a8c8e0" opacity="0.75" filter="url(#b2)"/>
<ellipse cx="786.1" cy="2284.3" rx="9.5" ry="4.6" fill="#fff" opacity="0.45"/>
<circle cx="720.3" cy="2329.7999999999997" r="14.7" fill="#646464" filter="url(#b1)"/>
<circle cx="720.3" cy="2327.6" r="14.5" fill="url(#lw)" stroke="#8c8c8c" stroke-width="1.1"/>
<rect x="714.3" y="2322.6" width="7" height="10" fill="#e8c8b0" opacity="0.75" filter="url(#b2)"/>
<rect x="719.8" y="2323.6" width="6.5" height="9" fill="#d8c8e8" opacity="0.75" filter="url(#b2)"/>
<ellipse cx="720.3" cy="2320.1" rx="9.5" ry="4.6" fill="#fff" opacity="0.45"/>
<circle cx="713.6" cy="2424.8999999999996" r="14.7" fill="#6e3a3e" filter="url(#b1)"/>
<circle cx="713.6" cy="2422.7" r="14.5" fill="url(#lr)" stroke="#924048" stroke-width="1.1"/>
<ellipse cx="713.6" cy="2415.2" rx="9.5" ry="4.6" fill="#fff" opacity="0.3"/>
<circle cx="717" cy="2494.3999999999996" r="14.7" fill="#6e3a3e" filter="url(#b1)"/>
<circle cx="717" cy="2492.2" r="14.5" fill="url(#lr)" stroke="#924048" stroke-width="1.1"/>
<ellipse cx="717" cy="2484.7" rx="9.5" ry="4.6" fill="#fff" opacity="0.3"/>
</g>
<g font-size="8.9" fill="#383838" font-weight="bold" opacity="0.85" filter="url(#soft)">
<text x="317" y="1836">LEF1</text>
<text x="263" y="1866">TCF7L2</text>
<text x="320" y="1915">RUNX3</text>
<text x="392" y="1927">SPARCL1</text>
<text x="474" y="1903">PIKFYVE</text>
<text x="562" y="1891">INPP4A</text>
<text x="560" y="1930">ALMS1</text>
<text x="606" y="1926">CEP83</text>
<text x="447" y="1974">GPC4</text>
<text x="516" y="1964">BGN</text>
<text x="251" y="2012">IBSP</text>
<text x="172" y="2013">ALPL</text>
<text x="476" y="2013">FAM13A</text>
<text x="592" y="2003">DYNC1I2</text>
<text x="395" y="2087">CHN1</text>
<text x="473" y="2095">CDC42</text>
<text x="553" y="2103">FNBP1L</text>
<text x="316" y="2133">MEF2C</text>
<text x="454" y="2167">CHN2</text>
<text x="585" y="2167">EDNRA</text>
<text x="337" y="2189">FCGR2A</text>
<text x="524" y="2217">CXCR4</text>
<text x="419" y="2230">DOCK4</text>
<text x="291" y="2276">IFI44L</text>
<text x="474" y="2285">NID1</text>
<text x="557" y="2293">ACKR3</text>
<text x="353" y="2309">RPL5</text>
<text x="413" y="2332">RPL31</text>
<text x="528" y="2332">MMP9</text>
<text x="599" y="2338">MMP13</text>
<text x="318" y="2360">RSAD2</text>
<text x="374" y="2428">IFI44</text>
<text x="561" y="2470">COL10A1</text>
<text x="767" y="1836">C1QB</text>
<text x="792" y="1902">C1QA</text>
<text x="708" y="1910">CTSC</text>
<text x="850" y="1968">TYROBP</text>
<text x="752" y="1968">RGS1</text>
<text x="678" y="1991">HLA-DRA</text>
<text x="743" y="2040">NCAM1</text>
<text x="645" y="2037">PRPF39</text>
<text x="724" y="2079">PNISR</text>
<text x="860" y="2089">PRPF3</text>
<text x="639" y="2108">LUC7L3</text>
<text x="805" y="2127">SRSF11</text>
<text x="888" y="2136">SRSF5</text>
<text x="850" y="2175">SNRPA1</text>
<text x="817" y="2212">DLX5</text>
<text x="730" y="2224">WWP1</text>
<text x="648" y="2219">LPAR6</text>
<text x="657" y="2258">LPL</text>
<text x="799" y="2277">SMAD2</text>
<text x="733" y="2314">NCOR1</text>
<text x="726" y="2408">CD36</text>
<text x="730" y="2478">CD93</text>
</g>
<polygon points="352.2,1984.1 355.0,1989.8 361.3,1990.7 356.8,1995.2 357.8,2001.5 352.2,1998.5 346.6,2001.5 347.6,1995.2 343.1,1990.7 349.4,1989.8" fill="#e8212a"/>
<polygon points="708.0,2130.3 710.8,2136.0 717.1,2136.9 712.6,2141.4 713.6,2147.7 708.0,2144.7 702.4,2147.7 703.4,2141.4 698.9,2136.9 705.2,2136.0" fill="#e8212a"/>
<polygon points="534.1,2374.7 536.9,2380.4 543.2,2381.3 538.7,2385.8 539.7,2392.1 534.1,2389.1 528.5,2392.1 529.5,2385.8 525.0,2381.3 531.3,2380.4" fill="#e8212a"/>
<text x="360.5" y="2017" font-size="38.5" text-anchor="start" fill="#141414" textLength="91.8" lengthAdjust="spacingAndGlyphs" stroke="#141414" stroke-width="0.55">SPP1</text>
<text x="718.6" y="2167.3" font-size="38.5" text-anchor="start" fill="#141414" textLength="76.8" lengthAdjust="spacingAndGlyphs" stroke="#141414" stroke-width="0.55">PNN</text>
<text x="545.8" y="2406" font-size="39" text-anchor="start" fill="#141414" textLength="164.5" lengthAdjust="spacingAndGlyphs" stroke="#141414" stroke-width="0.55">COL15A1</text>
<circle cx="842.2" cy="2391" r="13.4" fill="#e31b23"/>
<text x="868.9" y="2402.7" font-size="39" text-anchor="start" fill="#141414" textLength="228.7" lengthAdjust="spacingAndGlyphs" stroke="#141414" stroke-width="0.55">Cell adhesion</text>
</svg>
</body></html>
